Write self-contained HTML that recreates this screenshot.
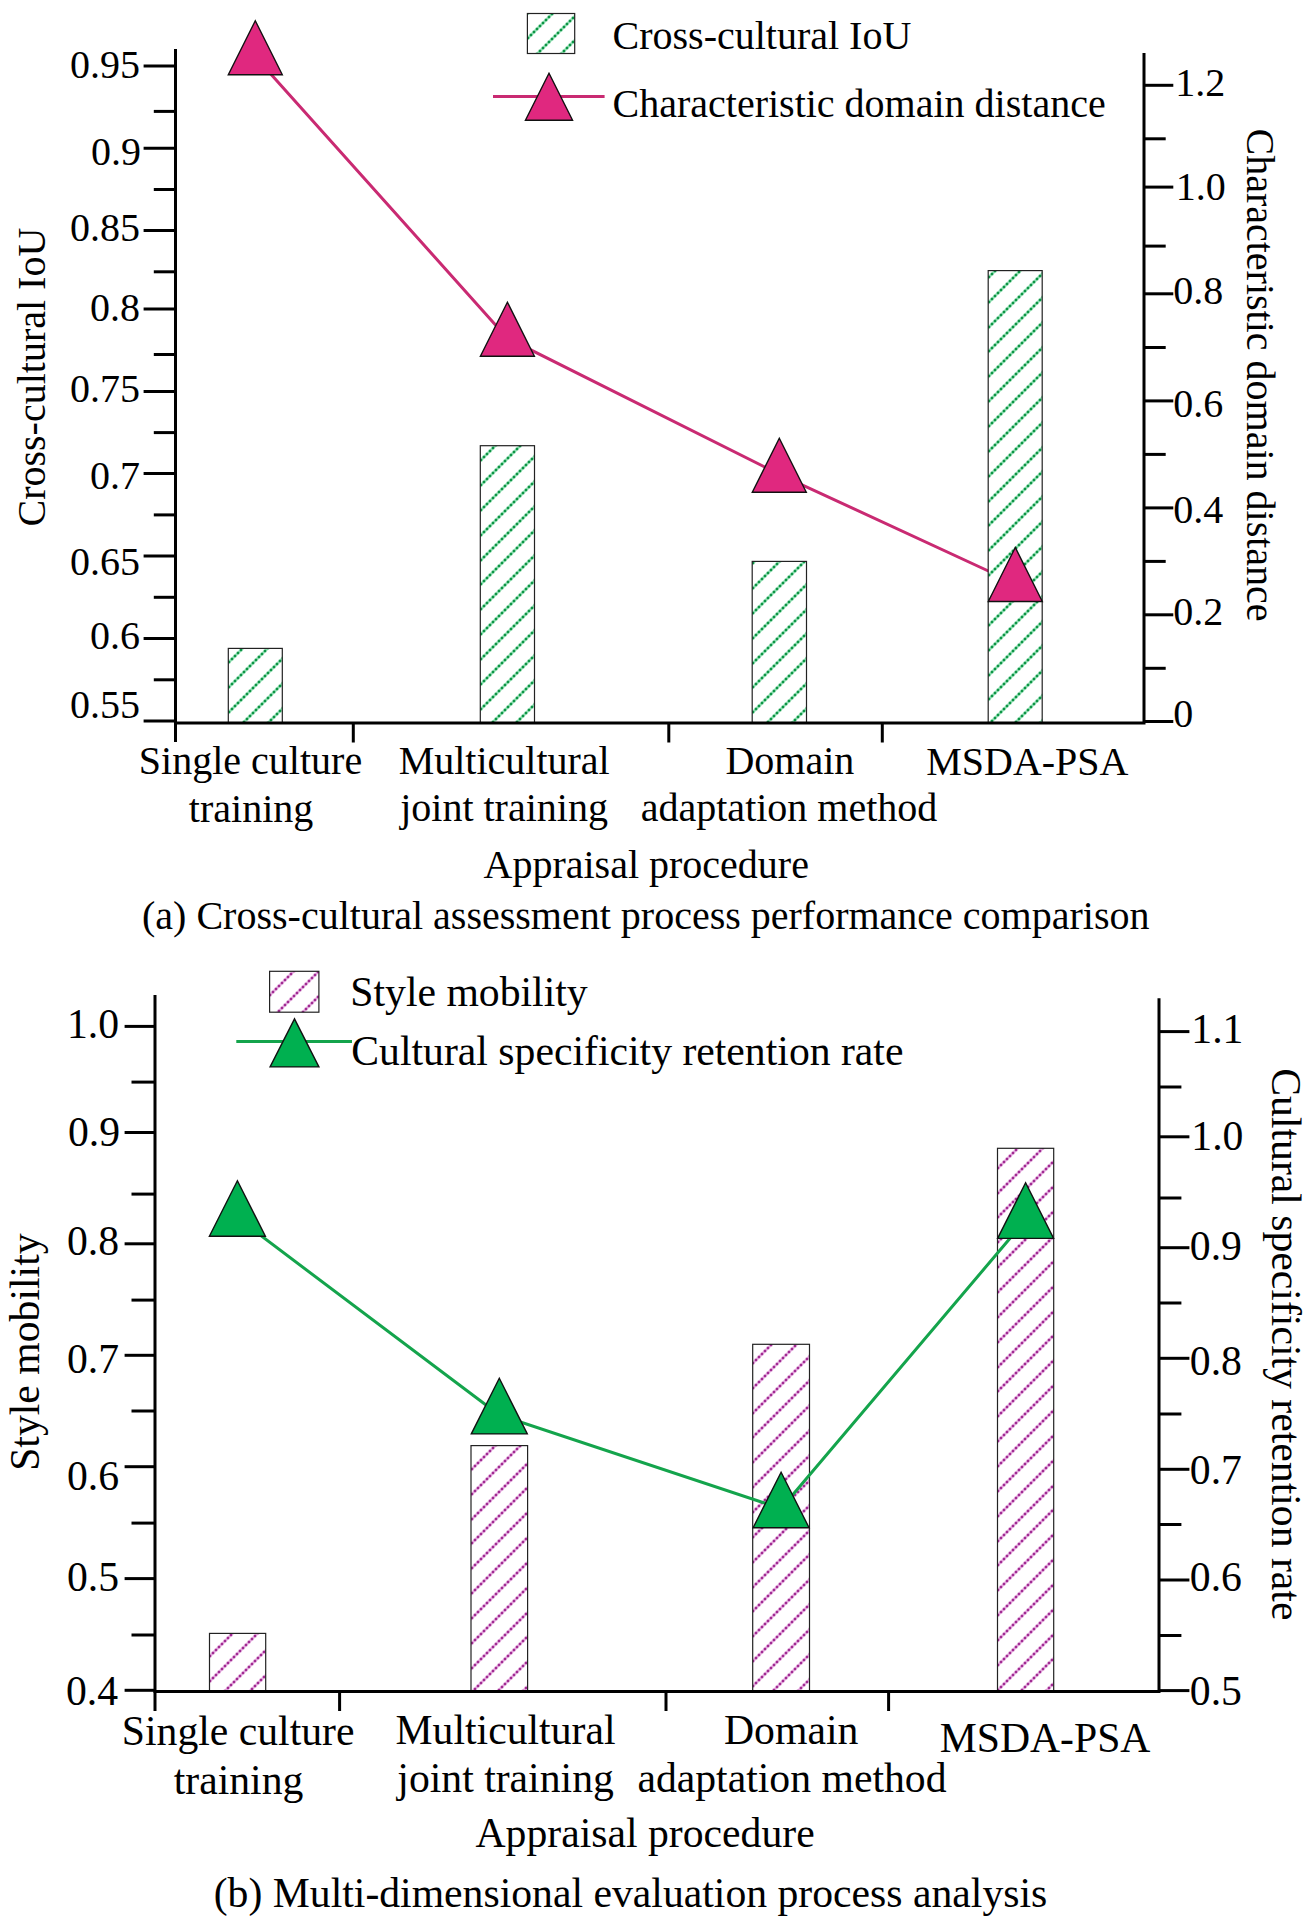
<!DOCTYPE html><html><head><meta charset="utf-8"><style>html,body{margin:0;padding:0;background:#fff}svg{display:block}</style></head><body>
<svg width="1308" height="1922" viewBox="0 0 1308 1922">
<rect width="1308" height="1922" fill="#fff"/>
<polyline points="255.3,56.7 507.4,338.2 779.3,474.3 1015.4,583.5" fill="none" stroke="#c92a72" stroke-width="3" stroke-linejoin="round"/>
<clipPath id="ca0"><rect x="228.3" y="648.4" width="54.00" height="74.60"/></clipPath>
<rect x="228.3" y="648.4" width="54.00" height="74.60" fill="#fff"/>
<g clip-path="url(#ca0)"><path fill="none" stroke="#9fe8bf" stroke-width="2.8" d="M225.3 616.7L285.3 556.7M225.3 641.7L285.3 581.7M225.3 665.7L285.3 605.7M225.3 690.7L285.3 630.7M225.3 715.7L285.3 655.7M225.3 740.7L285.3 680.7M225.3 765.7L285.3 705.7M225.3 790.7L285.3 730.7M225.3 815.7L285.3 755.7"/>
<path fill="#0f9446" d="M224.75 663.75h2.5v2.5h-2.5zM227.75 660.75h2.5v2.5h-2.5zM230.75 657.75h2.5v2.5h-2.5zM233.75 654.75h2.5v2.5h-2.5zM236.75 651.75h2.5v2.5h-2.5zM239.75 648.75h2.5v2.5h-2.5zM242.75 645.75h2.5v2.5h-2.5zM224.75 688.75h2.5v2.5h-2.5zM227.75 685.75h2.5v2.5h-2.5zM230.75 682.75h2.5v2.5h-2.5zM233.75 679.75h2.5v2.5h-2.5zM236.75 676.75h2.5v2.5h-2.5zM239.75 673.75h2.5v2.5h-2.5zM242.75 670.75h2.5v2.5h-2.5zM245.75 667.75h2.5v2.5h-2.5zM248.75 664.75h2.5v2.5h-2.5zM251.75 661.75h2.5v2.5h-2.5zM254.75 658.75h2.5v2.5h-2.5zM257.75 655.75h2.5v2.5h-2.5zM260.75 652.75h2.5v2.5h-2.5zM263.75 649.75h2.5v2.5h-2.5zM266.75 646.75h2.5v2.5h-2.5zM224.75 713.75h2.5v2.5h-2.5zM227.75 710.75h2.5v2.5h-2.5zM230.75 707.75h2.5v2.5h-2.5zM233.75 704.75h2.5v2.5h-2.5zM236.75 701.75h2.5v2.5h-2.5zM239.75 698.75h2.5v2.5h-2.5zM242.75 695.75h2.5v2.5h-2.5zM245.75 692.75h2.5v2.5h-2.5zM248.75 689.75h2.5v2.5h-2.5zM251.75 686.75h2.5v2.5h-2.5zM254.75 683.75h2.5v2.5h-2.5zM257.75 680.75h2.5v2.5h-2.5zM260.75 677.75h2.5v2.5h-2.5zM263.75 674.75h2.5v2.5h-2.5zM266.75 671.75h2.5v2.5h-2.5zM269.75 668.75h2.5v2.5h-2.5zM272.75 665.75h2.5v2.5h-2.5zM275.75 662.75h2.5v2.5h-2.5zM278.75 659.75h2.5v2.5h-2.5zM281.75 656.75h2.5v2.5h-2.5zM239.75 723.75h2.5v2.5h-2.5zM242.75 720.75h2.5v2.5h-2.5zM245.75 717.75h2.5v2.5h-2.5zM248.75 714.75h2.5v2.5h-2.5zM251.75 711.75h2.5v2.5h-2.5zM254.75 708.75h2.5v2.5h-2.5zM257.75 705.75h2.5v2.5h-2.5zM260.75 702.75h2.5v2.5h-2.5zM263.75 699.75h2.5v2.5h-2.5zM266.75 696.75h2.5v2.5h-2.5zM269.75 693.75h2.5v2.5h-2.5zM272.75 690.75h2.5v2.5h-2.5zM275.75 687.75h2.5v2.5h-2.5zM278.75 684.75h2.5v2.5h-2.5zM281.75 681.75h2.5v2.5h-2.5zM266.75 721.75h2.5v2.5h-2.5zM269.75 718.75h2.5v2.5h-2.5zM272.75 715.75h2.5v2.5h-2.5zM275.75 712.75h2.5v2.5h-2.5zM278.75 709.75h2.5v2.5h-2.5zM281.75 706.75h2.5v2.5h-2.5z"/></g>
<rect x="228.3" y="648.4" width="54.00" height="74.60" fill="none" stroke="#222" stroke-width="1.2"/>
<clipPath id="ca1"><rect x="480.3" y="445.7" width="54.20" height="277.30"/></clipPath>
<rect x="480.3" y="445.7" width="54.20" height="277.30" fill="#fff"/>
<g clip-path="url(#ca1)"><path fill="none" stroke="#9fe8bf" stroke-width="2.8" d="M477.3 414.7L537.5 354.5M477.3 438.7L537.5 378.5M477.3 463.7L537.5 403.5M477.3 488.7L537.5 428.5M477.3 513.7L537.5 453.5M477.3 538.7L537.5 478.5M477.3 563.7L537.5 503.5M477.3 587.7L537.5 527.5M477.3 612.7L537.5 552.5M477.3 637.7L537.5 577.5M477.3 662.7L537.5 602.5M477.3 687.7L537.5 627.5M477.3 712.7L537.5 652.5M477.3 737.7L537.5 677.5M477.3 761.7L537.5 701.5M477.3 786.7L537.5 726.5M477.3 811.7L537.5 751.5"/>
<path fill="#0f9446" d="M476.75 461.75h2.5v2.5h-2.5zM479.75 458.75h2.5v2.5h-2.5zM482.75 455.75h2.5v2.5h-2.5zM485.75 452.75h2.5v2.5h-2.5zM488.75 449.75h2.5v2.5h-2.5zM491.75 446.75h2.5v2.5h-2.5zM494.75 443.75h2.5v2.5h-2.5zM476.75 486.75h2.5v2.5h-2.5zM479.75 483.75h2.5v2.5h-2.5zM482.75 480.75h2.5v2.5h-2.5zM485.75 477.75h2.5v2.5h-2.5zM488.75 474.75h2.5v2.5h-2.5zM491.75 471.75h2.5v2.5h-2.5zM494.75 468.75h2.5v2.5h-2.5zM497.75 465.75h2.5v2.5h-2.5zM500.75 462.75h2.5v2.5h-2.5zM503.75 459.75h2.5v2.5h-2.5zM506.75 456.75h2.5v2.5h-2.5zM509.75 453.75h2.5v2.5h-2.5zM512.75 450.75h2.5v2.5h-2.5zM515.75 447.75h2.5v2.5h-2.5zM518.75 444.75h2.5v2.5h-2.5zM476.75 511.75h2.5v2.5h-2.5zM479.75 508.75h2.5v2.5h-2.5zM482.75 505.75h2.5v2.5h-2.5zM485.75 502.75h2.5v2.5h-2.5zM488.75 499.75h2.5v2.5h-2.5zM491.75 496.75h2.5v2.5h-2.5zM494.75 493.75h2.5v2.5h-2.5zM497.75 490.75h2.5v2.5h-2.5zM500.75 487.75h2.5v2.5h-2.5zM503.75 484.75h2.5v2.5h-2.5zM506.75 481.75h2.5v2.5h-2.5zM509.75 478.75h2.5v2.5h-2.5zM512.75 475.75h2.5v2.5h-2.5zM515.75 472.75h2.5v2.5h-2.5zM518.75 469.75h2.5v2.5h-2.5zM521.75 466.75h2.5v2.5h-2.5zM524.75 463.75h2.5v2.5h-2.5zM527.75 460.75h2.5v2.5h-2.5zM530.75 457.75h2.5v2.5h-2.5zM533.75 454.75h2.5v2.5h-2.5zM476.75 536.75h2.5v2.5h-2.5zM479.75 533.75h2.5v2.5h-2.5zM482.75 530.75h2.5v2.5h-2.5zM485.75 527.75h2.5v2.5h-2.5zM488.75 524.75h2.5v2.5h-2.5zM491.75 521.75h2.5v2.5h-2.5zM494.75 518.75h2.5v2.5h-2.5zM497.75 515.75h2.5v2.5h-2.5zM500.75 512.75h2.5v2.5h-2.5zM503.75 509.75h2.5v2.5h-2.5zM506.75 506.75h2.5v2.5h-2.5zM509.75 503.75h2.5v2.5h-2.5zM512.75 500.75h2.5v2.5h-2.5zM515.75 497.75h2.5v2.5h-2.5zM518.75 494.75h2.5v2.5h-2.5zM521.75 491.75h2.5v2.5h-2.5zM524.75 488.75h2.5v2.5h-2.5zM527.75 485.75h2.5v2.5h-2.5zM530.75 482.75h2.5v2.5h-2.5zM533.75 479.75h2.5v2.5h-2.5zM476.75 561.75h2.5v2.5h-2.5zM479.75 558.75h2.5v2.5h-2.5zM482.75 555.75h2.5v2.5h-2.5zM485.75 552.75h2.5v2.5h-2.5zM488.75 549.75h2.5v2.5h-2.5zM491.75 546.75h2.5v2.5h-2.5zM494.75 543.75h2.5v2.5h-2.5zM497.75 540.75h2.5v2.5h-2.5zM500.75 537.75h2.5v2.5h-2.5zM503.75 534.75h2.5v2.5h-2.5zM506.75 531.75h2.5v2.5h-2.5zM509.75 528.75h2.5v2.5h-2.5zM512.75 525.75h2.5v2.5h-2.5zM515.75 522.75h2.5v2.5h-2.5zM518.75 519.75h2.5v2.5h-2.5zM521.75 516.75h2.5v2.5h-2.5zM524.75 513.75h2.5v2.5h-2.5zM527.75 510.75h2.5v2.5h-2.5zM530.75 507.75h2.5v2.5h-2.5zM533.75 504.75h2.5v2.5h-2.5zM476.75 585.75h2.5v2.5h-2.5zM479.75 582.75h2.5v2.5h-2.5zM482.75 579.75h2.5v2.5h-2.5zM485.75 576.75h2.5v2.5h-2.5zM488.75 573.75h2.5v2.5h-2.5zM491.75 570.75h2.5v2.5h-2.5zM494.75 567.75h2.5v2.5h-2.5zM497.75 564.75h2.5v2.5h-2.5zM500.75 561.75h2.5v2.5h-2.5zM503.75 558.75h2.5v2.5h-2.5zM506.75 555.75h2.5v2.5h-2.5zM509.75 552.75h2.5v2.5h-2.5zM512.75 549.75h2.5v2.5h-2.5zM515.75 546.75h2.5v2.5h-2.5zM518.75 543.75h2.5v2.5h-2.5zM521.75 540.75h2.5v2.5h-2.5zM524.75 537.75h2.5v2.5h-2.5zM527.75 534.75h2.5v2.5h-2.5zM530.75 531.75h2.5v2.5h-2.5zM533.75 528.75h2.5v2.5h-2.5zM476.75 610.75h2.5v2.5h-2.5zM479.75 607.75h2.5v2.5h-2.5zM482.75 604.75h2.5v2.5h-2.5zM485.75 601.75h2.5v2.5h-2.5zM488.75 598.75h2.5v2.5h-2.5zM491.75 595.75h2.5v2.5h-2.5zM494.75 592.75h2.5v2.5h-2.5zM497.75 589.75h2.5v2.5h-2.5zM500.75 586.75h2.5v2.5h-2.5zM503.75 583.75h2.5v2.5h-2.5zM506.75 580.75h2.5v2.5h-2.5zM509.75 577.75h2.5v2.5h-2.5zM512.75 574.75h2.5v2.5h-2.5zM515.75 571.75h2.5v2.5h-2.5zM518.75 568.75h2.5v2.5h-2.5zM521.75 565.75h2.5v2.5h-2.5zM524.75 562.75h2.5v2.5h-2.5zM527.75 559.75h2.5v2.5h-2.5zM530.75 556.75h2.5v2.5h-2.5zM533.75 553.75h2.5v2.5h-2.5zM476.75 635.75h2.5v2.5h-2.5zM479.75 632.75h2.5v2.5h-2.5zM482.75 629.75h2.5v2.5h-2.5zM485.75 626.75h2.5v2.5h-2.5zM488.75 623.75h2.5v2.5h-2.5zM491.75 620.75h2.5v2.5h-2.5zM494.75 617.75h2.5v2.5h-2.5zM497.75 614.75h2.5v2.5h-2.5zM500.75 611.75h2.5v2.5h-2.5zM503.75 608.75h2.5v2.5h-2.5zM506.75 605.75h2.5v2.5h-2.5zM509.75 602.75h2.5v2.5h-2.5zM512.75 599.75h2.5v2.5h-2.5zM515.75 596.75h2.5v2.5h-2.5zM518.75 593.75h2.5v2.5h-2.5zM521.75 590.75h2.5v2.5h-2.5zM524.75 587.75h2.5v2.5h-2.5zM527.75 584.75h2.5v2.5h-2.5zM530.75 581.75h2.5v2.5h-2.5zM533.75 578.75h2.5v2.5h-2.5zM476.75 660.75h2.5v2.5h-2.5zM479.75 657.75h2.5v2.5h-2.5zM482.75 654.75h2.5v2.5h-2.5zM485.75 651.75h2.5v2.5h-2.5zM488.75 648.75h2.5v2.5h-2.5zM491.75 645.75h2.5v2.5h-2.5zM494.75 642.75h2.5v2.5h-2.5zM497.75 639.75h2.5v2.5h-2.5zM500.75 636.75h2.5v2.5h-2.5zM503.75 633.75h2.5v2.5h-2.5zM506.75 630.75h2.5v2.5h-2.5zM509.75 627.75h2.5v2.5h-2.5zM512.75 624.75h2.5v2.5h-2.5zM515.75 621.75h2.5v2.5h-2.5zM518.75 618.75h2.5v2.5h-2.5zM521.75 615.75h2.5v2.5h-2.5zM524.75 612.75h2.5v2.5h-2.5zM527.75 609.75h2.5v2.5h-2.5zM530.75 606.75h2.5v2.5h-2.5zM533.75 603.75h2.5v2.5h-2.5zM476.75 685.75h2.5v2.5h-2.5zM479.75 682.75h2.5v2.5h-2.5zM482.75 679.75h2.5v2.5h-2.5zM485.75 676.75h2.5v2.5h-2.5zM488.75 673.75h2.5v2.5h-2.5zM491.75 670.75h2.5v2.5h-2.5zM494.75 667.75h2.5v2.5h-2.5zM497.75 664.75h2.5v2.5h-2.5zM500.75 661.75h2.5v2.5h-2.5zM503.75 658.75h2.5v2.5h-2.5zM506.75 655.75h2.5v2.5h-2.5zM509.75 652.75h2.5v2.5h-2.5zM512.75 649.75h2.5v2.5h-2.5zM515.75 646.75h2.5v2.5h-2.5zM518.75 643.75h2.5v2.5h-2.5zM521.75 640.75h2.5v2.5h-2.5zM524.75 637.75h2.5v2.5h-2.5zM527.75 634.75h2.5v2.5h-2.5zM530.75 631.75h2.5v2.5h-2.5zM533.75 628.75h2.5v2.5h-2.5zM476.75 710.75h2.5v2.5h-2.5zM479.75 707.75h2.5v2.5h-2.5zM482.75 704.75h2.5v2.5h-2.5zM485.75 701.75h2.5v2.5h-2.5zM488.75 698.75h2.5v2.5h-2.5zM491.75 695.75h2.5v2.5h-2.5zM494.75 692.75h2.5v2.5h-2.5zM497.75 689.75h2.5v2.5h-2.5zM500.75 686.75h2.5v2.5h-2.5zM503.75 683.75h2.5v2.5h-2.5zM506.75 680.75h2.5v2.5h-2.5zM509.75 677.75h2.5v2.5h-2.5zM512.75 674.75h2.5v2.5h-2.5zM515.75 671.75h2.5v2.5h-2.5zM518.75 668.75h2.5v2.5h-2.5zM521.75 665.75h2.5v2.5h-2.5zM524.75 662.75h2.5v2.5h-2.5zM527.75 659.75h2.5v2.5h-2.5zM530.75 656.75h2.5v2.5h-2.5zM533.75 653.75h2.5v2.5h-2.5zM488.75 723.75h2.5v2.5h-2.5zM491.75 720.75h2.5v2.5h-2.5zM494.75 717.75h2.5v2.5h-2.5zM497.75 714.75h2.5v2.5h-2.5zM500.75 711.75h2.5v2.5h-2.5zM503.75 708.75h2.5v2.5h-2.5zM506.75 705.75h2.5v2.5h-2.5zM509.75 702.75h2.5v2.5h-2.5zM512.75 699.75h2.5v2.5h-2.5zM515.75 696.75h2.5v2.5h-2.5zM518.75 693.75h2.5v2.5h-2.5zM521.75 690.75h2.5v2.5h-2.5zM524.75 687.75h2.5v2.5h-2.5zM527.75 684.75h2.5v2.5h-2.5zM530.75 681.75h2.5v2.5h-2.5zM533.75 678.75h2.5v2.5h-2.5zM512.75 723.75h2.5v2.5h-2.5zM515.75 720.75h2.5v2.5h-2.5zM518.75 717.75h2.5v2.5h-2.5zM521.75 714.75h2.5v2.5h-2.5zM524.75 711.75h2.5v2.5h-2.5zM527.75 708.75h2.5v2.5h-2.5zM530.75 705.75h2.5v2.5h-2.5zM533.75 702.75h2.5v2.5h-2.5z"/></g>
<rect x="480.3" y="445.7" width="54.20" height="277.30" fill="none" stroke="#222" stroke-width="1.2"/>
<clipPath id="ca2"><rect x="752.2" y="561.4" width="54.30" height="161.60"/></clipPath>
<rect x="752.2" y="561.4" width="54.30" height="161.60" fill="#fff"/>
<g clip-path="url(#ca2)"><path fill="none" stroke="#9fe8bf" stroke-width="2.8" d="M749.2 516.8L809.5 456.5M749.2 541.8L809.5 481.5M749.2 566.8L809.5 506.5M749.2 591.8L809.5 531.5M749.2 616.8L809.5 556.5M749.2 641.8L809.5 581.5M749.2 666.8L809.5 606.5M749.2 690.8L809.5 630.5M749.2 715.8L809.5 655.5M749.2 740.8L809.5 680.5M749.2 765.8L809.5 705.5M749.2 790.8L809.5 730.5M749.2 815.8L809.5 755.5"/>
<path fill="#0f9446" d="M748.75 564.75h2.5v2.5h-2.5zM751.75 561.75h2.5v2.5h-2.5zM754.75 558.75h2.5v2.5h-2.5zM748.75 589.75h2.5v2.5h-2.5zM751.75 586.75h2.5v2.5h-2.5zM754.75 583.75h2.5v2.5h-2.5zM757.75 580.75h2.5v2.5h-2.5zM760.75 577.75h2.5v2.5h-2.5zM763.75 574.75h2.5v2.5h-2.5zM766.75 571.75h2.5v2.5h-2.5zM769.75 568.75h2.5v2.5h-2.5zM772.75 565.75h2.5v2.5h-2.5zM775.75 562.75h2.5v2.5h-2.5zM778.75 559.75h2.5v2.5h-2.5zM748.75 614.75h2.5v2.5h-2.5zM751.75 611.75h2.5v2.5h-2.5zM754.75 608.75h2.5v2.5h-2.5zM757.75 605.75h2.5v2.5h-2.5zM760.75 602.75h2.5v2.5h-2.5zM763.75 599.75h2.5v2.5h-2.5zM766.75 596.75h2.5v2.5h-2.5zM769.75 593.75h2.5v2.5h-2.5zM772.75 590.75h2.5v2.5h-2.5zM775.75 587.75h2.5v2.5h-2.5zM778.75 584.75h2.5v2.5h-2.5zM781.75 581.75h2.5v2.5h-2.5zM784.75 578.75h2.5v2.5h-2.5zM787.75 575.75h2.5v2.5h-2.5zM790.75 572.75h2.5v2.5h-2.5zM793.75 569.75h2.5v2.5h-2.5zM796.75 566.75h2.5v2.5h-2.5zM799.75 563.75h2.5v2.5h-2.5zM802.75 560.75h2.5v2.5h-2.5zM748.75 639.75h2.5v2.5h-2.5zM751.75 636.75h2.5v2.5h-2.5zM754.75 633.75h2.5v2.5h-2.5zM757.75 630.75h2.5v2.5h-2.5zM760.75 627.75h2.5v2.5h-2.5zM763.75 624.75h2.5v2.5h-2.5zM766.75 621.75h2.5v2.5h-2.5zM769.75 618.75h2.5v2.5h-2.5zM772.75 615.75h2.5v2.5h-2.5zM775.75 612.75h2.5v2.5h-2.5zM778.75 609.75h2.5v2.5h-2.5zM781.75 606.75h2.5v2.5h-2.5zM784.75 603.75h2.5v2.5h-2.5zM787.75 600.75h2.5v2.5h-2.5zM790.75 597.75h2.5v2.5h-2.5zM793.75 594.75h2.5v2.5h-2.5zM796.75 591.75h2.5v2.5h-2.5zM799.75 588.75h2.5v2.5h-2.5zM802.75 585.75h2.5v2.5h-2.5zM805.75 582.75h2.5v2.5h-2.5zM748.75 664.75h2.5v2.5h-2.5zM751.75 661.75h2.5v2.5h-2.5zM754.75 658.75h2.5v2.5h-2.5zM757.75 655.75h2.5v2.5h-2.5zM760.75 652.75h2.5v2.5h-2.5zM763.75 649.75h2.5v2.5h-2.5zM766.75 646.75h2.5v2.5h-2.5zM769.75 643.75h2.5v2.5h-2.5zM772.75 640.75h2.5v2.5h-2.5zM775.75 637.75h2.5v2.5h-2.5zM778.75 634.75h2.5v2.5h-2.5zM781.75 631.75h2.5v2.5h-2.5zM784.75 628.75h2.5v2.5h-2.5zM787.75 625.75h2.5v2.5h-2.5zM790.75 622.75h2.5v2.5h-2.5zM793.75 619.75h2.5v2.5h-2.5zM796.75 616.75h2.5v2.5h-2.5zM799.75 613.75h2.5v2.5h-2.5zM802.75 610.75h2.5v2.5h-2.5zM805.75 607.75h2.5v2.5h-2.5zM748.75 688.75h2.5v2.5h-2.5zM751.75 685.75h2.5v2.5h-2.5zM754.75 682.75h2.5v2.5h-2.5zM757.75 679.75h2.5v2.5h-2.5zM760.75 676.75h2.5v2.5h-2.5zM763.75 673.75h2.5v2.5h-2.5zM766.75 670.75h2.5v2.5h-2.5zM769.75 667.75h2.5v2.5h-2.5zM772.75 664.75h2.5v2.5h-2.5zM775.75 661.75h2.5v2.5h-2.5zM778.75 658.75h2.5v2.5h-2.5zM781.75 655.75h2.5v2.5h-2.5zM784.75 652.75h2.5v2.5h-2.5zM787.75 649.75h2.5v2.5h-2.5zM790.75 646.75h2.5v2.5h-2.5zM793.75 643.75h2.5v2.5h-2.5zM796.75 640.75h2.5v2.5h-2.5zM799.75 637.75h2.5v2.5h-2.5zM802.75 634.75h2.5v2.5h-2.5zM805.75 631.75h2.5v2.5h-2.5zM748.75 713.75h2.5v2.5h-2.5zM751.75 710.75h2.5v2.5h-2.5zM754.75 707.75h2.5v2.5h-2.5zM757.75 704.75h2.5v2.5h-2.5zM760.75 701.75h2.5v2.5h-2.5zM763.75 698.75h2.5v2.5h-2.5zM766.75 695.75h2.5v2.5h-2.5zM769.75 692.75h2.5v2.5h-2.5zM772.75 689.75h2.5v2.5h-2.5zM775.75 686.75h2.5v2.5h-2.5zM778.75 683.75h2.5v2.5h-2.5zM781.75 680.75h2.5v2.5h-2.5zM784.75 677.75h2.5v2.5h-2.5zM787.75 674.75h2.5v2.5h-2.5zM790.75 671.75h2.5v2.5h-2.5zM793.75 668.75h2.5v2.5h-2.5zM796.75 665.75h2.5v2.5h-2.5zM799.75 662.75h2.5v2.5h-2.5zM802.75 659.75h2.5v2.5h-2.5zM805.75 656.75h2.5v2.5h-2.5zM763.75 723.75h2.5v2.5h-2.5zM766.75 720.75h2.5v2.5h-2.5zM769.75 717.75h2.5v2.5h-2.5zM772.75 714.75h2.5v2.5h-2.5zM775.75 711.75h2.5v2.5h-2.5zM778.75 708.75h2.5v2.5h-2.5zM781.75 705.75h2.5v2.5h-2.5zM784.75 702.75h2.5v2.5h-2.5zM787.75 699.75h2.5v2.5h-2.5zM790.75 696.75h2.5v2.5h-2.5zM793.75 693.75h2.5v2.5h-2.5zM796.75 690.75h2.5v2.5h-2.5zM799.75 687.75h2.5v2.5h-2.5zM802.75 684.75h2.5v2.5h-2.5zM805.75 681.75h2.5v2.5h-2.5zM790.75 721.75h2.5v2.5h-2.5zM793.75 718.75h2.5v2.5h-2.5zM796.75 715.75h2.5v2.5h-2.5zM799.75 712.75h2.5v2.5h-2.5zM802.75 709.75h2.5v2.5h-2.5zM805.75 706.75h2.5v2.5h-2.5z"/></g>
<rect x="752.2" y="561.4" width="54.30" height="161.60" fill="none" stroke="#222" stroke-width="1.2"/>
<clipPath id="ca3"><rect x="988.2" y="270.6" width="54.00" height="452.40"/></clipPath>
<rect x="988.2" y="270.6" width="54.00" height="452.40" fill="#fff"/>
<g clip-path="url(#ca3)"><path fill="none" stroke="#9fe8bf" stroke-width="2.8" d="M985.2 230.8L1045.2 170.8M985.2 255.8L1045.2 195.8M985.2 280.8L1045.2 220.8M985.2 305.8L1045.2 245.8M985.2 330.8L1045.2 270.8M985.2 354.8L1045.2 294.8M985.2 379.8L1045.2 319.8M985.2 404.8L1045.2 344.8M985.2 429.8L1045.2 369.8M985.2 454.8L1045.2 394.8M985.2 479.8L1045.2 419.8M985.2 504.8L1045.2 444.8M985.2 528.8L1045.2 468.8M985.2 553.8L1045.2 493.8M985.2 578.8L1045.2 518.8M985.2 603.8L1045.2 543.8M985.2 628.8L1045.2 568.8M985.2 653.8L1045.2 593.8M985.2 678.8L1045.2 618.8M985.2 702.8L1045.2 642.8M985.2 727.8L1045.2 667.8M985.2 752.8L1045.2 692.8M985.2 777.8L1045.2 717.8M985.2 802.8L1045.2 742.8M985.2 827.8L1045.2 767.8"/>
<path fill="#0f9446" d="M984.75 278.75h2.5v2.5h-2.5zM987.75 275.75h2.5v2.5h-2.5zM990.75 272.75h2.5v2.5h-2.5zM993.75 269.75h2.5v2.5h-2.5zM984.75 303.75h2.5v2.5h-2.5zM987.75 300.75h2.5v2.5h-2.5zM990.75 297.75h2.5v2.5h-2.5zM993.75 294.75h2.5v2.5h-2.5zM996.75 291.75h2.5v2.5h-2.5zM999.75 288.75h2.5v2.5h-2.5zM1002.75 285.75h2.5v2.5h-2.5zM1005.75 282.75h2.5v2.5h-2.5zM1008.75 279.75h2.5v2.5h-2.5zM1011.75 276.75h2.5v2.5h-2.5zM1014.75 273.75h2.5v2.5h-2.5zM1017.75 270.75h2.5v2.5h-2.5zM1020.75 267.75h2.5v2.5h-2.5zM984.75 328.75h2.5v2.5h-2.5zM987.75 325.75h2.5v2.5h-2.5zM990.75 322.75h2.5v2.5h-2.5zM993.75 319.75h2.5v2.5h-2.5zM996.75 316.75h2.5v2.5h-2.5zM999.75 313.75h2.5v2.5h-2.5zM1002.75 310.75h2.5v2.5h-2.5zM1005.75 307.75h2.5v2.5h-2.5zM1008.75 304.75h2.5v2.5h-2.5zM1011.75 301.75h2.5v2.5h-2.5zM1014.75 298.75h2.5v2.5h-2.5zM1017.75 295.75h2.5v2.5h-2.5zM1020.75 292.75h2.5v2.5h-2.5zM1023.75 289.75h2.5v2.5h-2.5zM1026.75 286.75h2.5v2.5h-2.5zM1029.75 283.75h2.5v2.5h-2.5zM1032.75 280.75h2.5v2.5h-2.5zM1035.75 277.75h2.5v2.5h-2.5zM1038.75 274.75h2.5v2.5h-2.5zM1041.75 271.75h2.5v2.5h-2.5zM984.75 352.75h2.5v2.5h-2.5zM987.75 349.75h2.5v2.5h-2.5zM990.75 346.75h2.5v2.5h-2.5zM993.75 343.75h2.5v2.5h-2.5zM996.75 340.75h2.5v2.5h-2.5zM999.75 337.75h2.5v2.5h-2.5zM1002.75 334.75h2.5v2.5h-2.5zM1005.75 331.75h2.5v2.5h-2.5zM1008.75 328.75h2.5v2.5h-2.5zM1011.75 325.75h2.5v2.5h-2.5zM1014.75 322.75h2.5v2.5h-2.5zM1017.75 319.75h2.5v2.5h-2.5zM1020.75 316.75h2.5v2.5h-2.5zM1023.75 313.75h2.5v2.5h-2.5zM1026.75 310.75h2.5v2.5h-2.5zM1029.75 307.75h2.5v2.5h-2.5zM1032.75 304.75h2.5v2.5h-2.5zM1035.75 301.75h2.5v2.5h-2.5zM1038.75 298.75h2.5v2.5h-2.5zM1041.75 295.75h2.5v2.5h-2.5zM984.75 377.75h2.5v2.5h-2.5zM987.75 374.75h2.5v2.5h-2.5zM990.75 371.75h2.5v2.5h-2.5zM993.75 368.75h2.5v2.5h-2.5zM996.75 365.75h2.5v2.5h-2.5zM999.75 362.75h2.5v2.5h-2.5zM1002.75 359.75h2.5v2.5h-2.5zM1005.75 356.75h2.5v2.5h-2.5zM1008.75 353.75h2.5v2.5h-2.5zM1011.75 350.75h2.5v2.5h-2.5zM1014.75 347.75h2.5v2.5h-2.5zM1017.75 344.75h2.5v2.5h-2.5zM1020.75 341.75h2.5v2.5h-2.5zM1023.75 338.75h2.5v2.5h-2.5zM1026.75 335.75h2.5v2.5h-2.5zM1029.75 332.75h2.5v2.5h-2.5zM1032.75 329.75h2.5v2.5h-2.5zM1035.75 326.75h2.5v2.5h-2.5zM1038.75 323.75h2.5v2.5h-2.5zM1041.75 320.75h2.5v2.5h-2.5zM984.75 402.75h2.5v2.5h-2.5zM987.75 399.75h2.5v2.5h-2.5zM990.75 396.75h2.5v2.5h-2.5zM993.75 393.75h2.5v2.5h-2.5zM996.75 390.75h2.5v2.5h-2.5zM999.75 387.75h2.5v2.5h-2.5zM1002.75 384.75h2.5v2.5h-2.5zM1005.75 381.75h2.5v2.5h-2.5zM1008.75 378.75h2.5v2.5h-2.5zM1011.75 375.75h2.5v2.5h-2.5zM1014.75 372.75h2.5v2.5h-2.5zM1017.75 369.75h2.5v2.5h-2.5zM1020.75 366.75h2.5v2.5h-2.5zM1023.75 363.75h2.5v2.5h-2.5zM1026.75 360.75h2.5v2.5h-2.5zM1029.75 357.75h2.5v2.5h-2.5zM1032.75 354.75h2.5v2.5h-2.5zM1035.75 351.75h2.5v2.5h-2.5zM1038.75 348.75h2.5v2.5h-2.5zM1041.75 345.75h2.5v2.5h-2.5zM984.75 427.75h2.5v2.5h-2.5zM987.75 424.75h2.5v2.5h-2.5zM990.75 421.75h2.5v2.5h-2.5zM993.75 418.75h2.5v2.5h-2.5zM996.75 415.75h2.5v2.5h-2.5zM999.75 412.75h2.5v2.5h-2.5zM1002.75 409.75h2.5v2.5h-2.5zM1005.75 406.75h2.5v2.5h-2.5zM1008.75 403.75h2.5v2.5h-2.5zM1011.75 400.75h2.5v2.5h-2.5zM1014.75 397.75h2.5v2.5h-2.5zM1017.75 394.75h2.5v2.5h-2.5zM1020.75 391.75h2.5v2.5h-2.5zM1023.75 388.75h2.5v2.5h-2.5zM1026.75 385.75h2.5v2.5h-2.5zM1029.75 382.75h2.5v2.5h-2.5zM1032.75 379.75h2.5v2.5h-2.5zM1035.75 376.75h2.5v2.5h-2.5zM1038.75 373.75h2.5v2.5h-2.5zM1041.75 370.75h2.5v2.5h-2.5zM984.75 452.75h2.5v2.5h-2.5zM987.75 449.75h2.5v2.5h-2.5zM990.75 446.75h2.5v2.5h-2.5zM993.75 443.75h2.5v2.5h-2.5zM996.75 440.75h2.5v2.5h-2.5zM999.75 437.75h2.5v2.5h-2.5zM1002.75 434.75h2.5v2.5h-2.5zM1005.75 431.75h2.5v2.5h-2.5zM1008.75 428.75h2.5v2.5h-2.5zM1011.75 425.75h2.5v2.5h-2.5zM1014.75 422.75h2.5v2.5h-2.5zM1017.75 419.75h2.5v2.5h-2.5zM1020.75 416.75h2.5v2.5h-2.5zM1023.75 413.75h2.5v2.5h-2.5zM1026.75 410.75h2.5v2.5h-2.5zM1029.75 407.75h2.5v2.5h-2.5zM1032.75 404.75h2.5v2.5h-2.5zM1035.75 401.75h2.5v2.5h-2.5zM1038.75 398.75h2.5v2.5h-2.5zM1041.75 395.75h2.5v2.5h-2.5zM984.75 477.75h2.5v2.5h-2.5zM987.75 474.75h2.5v2.5h-2.5zM990.75 471.75h2.5v2.5h-2.5zM993.75 468.75h2.5v2.5h-2.5zM996.75 465.75h2.5v2.5h-2.5zM999.75 462.75h2.5v2.5h-2.5zM1002.75 459.75h2.5v2.5h-2.5zM1005.75 456.75h2.5v2.5h-2.5zM1008.75 453.75h2.5v2.5h-2.5zM1011.75 450.75h2.5v2.5h-2.5zM1014.75 447.75h2.5v2.5h-2.5zM1017.75 444.75h2.5v2.5h-2.5zM1020.75 441.75h2.5v2.5h-2.5zM1023.75 438.75h2.5v2.5h-2.5zM1026.75 435.75h2.5v2.5h-2.5zM1029.75 432.75h2.5v2.5h-2.5zM1032.75 429.75h2.5v2.5h-2.5zM1035.75 426.75h2.5v2.5h-2.5zM1038.75 423.75h2.5v2.5h-2.5zM1041.75 420.75h2.5v2.5h-2.5zM984.75 502.75h2.5v2.5h-2.5zM987.75 499.75h2.5v2.5h-2.5zM990.75 496.75h2.5v2.5h-2.5zM993.75 493.75h2.5v2.5h-2.5zM996.75 490.75h2.5v2.5h-2.5zM999.75 487.75h2.5v2.5h-2.5zM1002.75 484.75h2.5v2.5h-2.5zM1005.75 481.75h2.5v2.5h-2.5zM1008.75 478.75h2.5v2.5h-2.5zM1011.75 475.75h2.5v2.5h-2.5zM1014.75 472.75h2.5v2.5h-2.5zM1017.75 469.75h2.5v2.5h-2.5zM1020.75 466.75h2.5v2.5h-2.5zM1023.75 463.75h2.5v2.5h-2.5zM1026.75 460.75h2.5v2.5h-2.5zM1029.75 457.75h2.5v2.5h-2.5zM1032.75 454.75h2.5v2.5h-2.5zM1035.75 451.75h2.5v2.5h-2.5zM1038.75 448.75h2.5v2.5h-2.5zM1041.75 445.75h2.5v2.5h-2.5zM984.75 526.75h2.5v2.5h-2.5zM987.75 523.75h2.5v2.5h-2.5zM990.75 520.75h2.5v2.5h-2.5zM993.75 517.75h2.5v2.5h-2.5zM996.75 514.75h2.5v2.5h-2.5zM999.75 511.75h2.5v2.5h-2.5zM1002.75 508.75h2.5v2.5h-2.5zM1005.75 505.75h2.5v2.5h-2.5zM1008.75 502.75h2.5v2.5h-2.5zM1011.75 499.75h2.5v2.5h-2.5zM1014.75 496.75h2.5v2.5h-2.5zM1017.75 493.75h2.5v2.5h-2.5zM1020.75 490.75h2.5v2.5h-2.5zM1023.75 487.75h2.5v2.5h-2.5zM1026.75 484.75h2.5v2.5h-2.5zM1029.75 481.75h2.5v2.5h-2.5zM1032.75 478.75h2.5v2.5h-2.5zM1035.75 475.75h2.5v2.5h-2.5zM1038.75 472.75h2.5v2.5h-2.5zM1041.75 469.75h2.5v2.5h-2.5zM984.75 551.75h2.5v2.5h-2.5zM987.75 548.75h2.5v2.5h-2.5zM990.75 545.75h2.5v2.5h-2.5zM993.75 542.75h2.5v2.5h-2.5zM996.75 539.75h2.5v2.5h-2.5zM999.75 536.75h2.5v2.5h-2.5zM1002.75 533.75h2.5v2.5h-2.5zM1005.75 530.75h2.5v2.5h-2.5zM1008.75 527.75h2.5v2.5h-2.5zM1011.75 524.75h2.5v2.5h-2.5zM1014.75 521.75h2.5v2.5h-2.5zM1017.75 518.75h2.5v2.5h-2.5zM1020.75 515.75h2.5v2.5h-2.5zM1023.75 512.75h2.5v2.5h-2.5zM1026.75 509.75h2.5v2.5h-2.5zM1029.75 506.75h2.5v2.5h-2.5zM1032.75 503.75h2.5v2.5h-2.5zM1035.75 500.75h2.5v2.5h-2.5zM1038.75 497.75h2.5v2.5h-2.5zM1041.75 494.75h2.5v2.5h-2.5zM984.75 576.75h2.5v2.5h-2.5zM987.75 573.75h2.5v2.5h-2.5zM990.75 570.75h2.5v2.5h-2.5zM993.75 567.75h2.5v2.5h-2.5zM996.75 564.75h2.5v2.5h-2.5zM999.75 561.75h2.5v2.5h-2.5zM1002.75 558.75h2.5v2.5h-2.5zM1005.75 555.75h2.5v2.5h-2.5zM1008.75 552.75h2.5v2.5h-2.5zM1011.75 549.75h2.5v2.5h-2.5zM1014.75 546.75h2.5v2.5h-2.5zM1017.75 543.75h2.5v2.5h-2.5zM1020.75 540.75h2.5v2.5h-2.5zM1023.75 537.75h2.5v2.5h-2.5zM1026.75 534.75h2.5v2.5h-2.5zM1029.75 531.75h2.5v2.5h-2.5zM1032.75 528.75h2.5v2.5h-2.5zM1035.75 525.75h2.5v2.5h-2.5zM1038.75 522.75h2.5v2.5h-2.5zM1041.75 519.75h2.5v2.5h-2.5zM984.75 601.75h2.5v2.5h-2.5zM987.75 598.75h2.5v2.5h-2.5zM990.75 595.75h2.5v2.5h-2.5zM993.75 592.75h2.5v2.5h-2.5zM996.75 589.75h2.5v2.5h-2.5zM999.75 586.75h2.5v2.5h-2.5zM1002.75 583.75h2.5v2.5h-2.5zM1005.75 580.75h2.5v2.5h-2.5zM1008.75 577.75h2.5v2.5h-2.5zM1011.75 574.75h2.5v2.5h-2.5zM1014.75 571.75h2.5v2.5h-2.5zM1017.75 568.75h2.5v2.5h-2.5zM1020.75 565.75h2.5v2.5h-2.5zM1023.75 562.75h2.5v2.5h-2.5zM1026.75 559.75h2.5v2.5h-2.5zM1029.75 556.75h2.5v2.5h-2.5zM1032.75 553.75h2.5v2.5h-2.5zM1035.75 550.75h2.5v2.5h-2.5zM1038.75 547.75h2.5v2.5h-2.5zM1041.75 544.75h2.5v2.5h-2.5zM984.75 626.75h2.5v2.5h-2.5zM987.75 623.75h2.5v2.5h-2.5zM990.75 620.75h2.5v2.5h-2.5zM993.75 617.75h2.5v2.5h-2.5zM996.75 614.75h2.5v2.5h-2.5zM999.75 611.75h2.5v2.5h-2.5zM1002.75 608.75h2.5v2.5h-2.5zM1005.75 605.75h2.5v2.5h-2.5zM1008.75 602.75h2.5v2.5h-2.5zM1011.75 599.75h2.5v2.5h-2.5zM1014.75 596.75h2.5v2.5h-2.5zM1017.75 593.75h2.5v2.5h-2.5zM1020.75 590.75h2.5v2.5h-2.5zM1023.75 587.75h2.5v2.5h-2.5zM1026.75 584.75h2.5v2.5h-2.5zM1029.75 581.75h2.5v2.5h-2.5zM1032.75 578.75h2.5v2.5h-2.5zM1035.75 575.75h2.5v2.5h-2.5zM1038.75 572.75h2.5v2.5h-2.5zM1041.75 569.75h2.5v2.5h-2.5zM984.75 651.75h2.5v2.5h-2.5zM987.75 648.75h2.5v2.5h-2.5zM990.75 645.75h2.5v2.5h-2.5zM993.75 642.75h2.5v2.5h-2.5zM996.75 639.75h2.5v2.5h-2.5zM999.75 636.75h2.5v2.5h-2.5zM1002.75 633.75h2.5v2.5h-2.5zM1005.75 630.75h2.5v2.5h-2.5zM1008.75 627.75h2.5v2.5h-2.5zM1011.75 624.75h2.5v2.5h-2.5zM1014.75 621.75h2.5v2.5h-2.5zM1017.75 618.75h2.5v2.5h-2.5zM1020.75 615.75h2.5v2.5h-2.5zM1023.75 612.75h2.5v2.5h-2.5zM1026.75 609.75h2.5v2.5h-2.5zM1029.75 606.75h2.5v2.5h-2.5zM1032.75 603.75h2.5v2.5h-2.5zM1035.75 600.75h2.5v2.5h-2.5zM1038.75 597.75h2.5v2.5h-2.5zM1041.75 594.75h2.5v2.5h-2.5zM984.75 676.75h2.5v2.5h-2.5zM987.75 673.75h2.5v2.5h-2.5zM990.75 670.75h2.5v2.5h-2.5zM993.75 667.75h2.5v2.5h-2.5zM996.75 664.75h2.5v2.5h-2.5zM999.75 661.75h2.5v2.5h-2.5zM1002.75 658.75h2.5v2.5h-2.5zM1005.75 655.75h2.5v2.5h-2.5zM1008.75 652.75h2.5v2.5h-2.5zM1011.75 649.75h2.5v2.5h-2.5zM1014.75 646.75h2.5v2.5h-2.5zM1017.75 643.75h2.5v2.5h-2.5zM1020.75 640.75h2.5v2.5h-2.5zM1023.75 637.75h2.5v2.5h-2.5zM1026.75 634.75h2.5v2.5h-2.5zM1029.75 631.75h2.5v2.5h-2.5zM1032.75 628.75h2.5v2.5h-2.5zM1035.75 625.75h2.5v2.5h-2.5zM1038.75 622.75h2.5v2.5h-2.5zM1041.75 619.75h2.5v2.5h-2.5zM984.75 700.75h2.5v2.5h-2.5zM987.75 697.75h2.5v2.5h-2.5zM990.75 694.75h2.5v2.5h-2.5zM993.75 691.75h2.5v2.5h-2.5zM996.75 688.75h2.5v2.5h-2.5zM999.75 685.75h2.5v2.5h-2.5zM1002.75 682.75h2.5v2.5h-2.5zM1005.75 679.75h2.5v2.5h-2.5zM1008.75 676.75h2.5v2.5h-2.5zM1011.75 673.75h2.5v2.5h-2.5zM1014.75 670.75h2.5v2.5h-2.5zM1017.75 667.75h2.5v2.5h-2.5zM1020.75 664.75h2.5v2.5h-2.5zM1023.75 661.75h2.5v2.5h-2.5zM1026.75 658.75h2.5v2.5h-2.5zM1029.75 655.75h2.5v2.5h-2.5zM1032.75 652.75h2.5v2.5h-2.5zM1035.75 649.75h2.5v2.5h-2.5zM1038.75 646.75h2.5v2.5h-2.5zM1041.75 643.75h2.5v2.5h-2.5zM987.75 722.75h2.5v2.5h-2.5zM990.75 719.75h2.5v2.5h-2.5zM993.75 716.75h2.5v2.5h-2.5zM996.75 713.75h2.5v2.5h-2.5zM999.75 710.75h2.5v2.5h-2.5zM1002.75 707.75h2.5v2.5h-2.5zM1005.75 704.75h2.5v2.5h-2.5zM1008.75 701.75h2.5v2.5h-2.5zM1011.75 698.75h2.5v2.5h-2.5zM1014.75 695.75h2.5v2.5h-2.5zM1017.75 692.75h2.5v2.5h-2.5zM1020.75 689.75h2.5v2.5h-2.5zM1023.75 686.75h2.5v2.5h-2.5zM1026.75 683.75h2.5v2.5h-2.5zM1029.75 680.75h2.5v2.5h-2.5zM1032.75 677.75h2.5v2.5h-2.5zM1035.75 674.75h2.5v2.5h-2.5zM1038.75 671.75h2.5v2.5h-2.5zM1041.75 668.75h2.5v2.5h-2.5zM1011.75 723.75h2.5v2.5h-2.5zM1014.75 720.75h2.5v2.5h-2.5zM1017.75 717.75h2.5v2.5h-2.5zM1020.75 714.75h2.5v2.5h-2.5zM1023.75 711.75h2.5v2.5h-2.5zM1026.75 708.75h2.5v2.5h-2.5zM1029.75 705.75h2.5v2.5h-2.5zM1032.75 702.75h2.5v2.5h-2.5zM1035.75 699.75h2.5v2.5h-2.5zM1038.75 696.75h2.5v2.5h-2.5zM1041.75 693.75h2.5v2.5h-2.5zM1038.75 721.75h2.5v2.5h-2.5zM1041.75 718.75h2.5v2.5h-2.5z"/></g>
<rect x="988.2" y="270.6" width="54.00" height="452.40" fill="none" stroke="#222" stroke-width="1.2"/>
<polygon points="255.3,20.7 228.3,74.7 282.3,74.7" fill="#e0287f" stroke="#111" stroke-width="1.4" stroke-linejoin="miter"/>
<polygon points="507.4,302.2 480.4,356.2 534.4,356.2" fill="#e0287f" stroke="#111" stroke-width="1.4" stroke-linejoin="miter"/>
<polygon points="779.3,438.3 752.3,492.3 806.3,492.3" fill="#e0287f" stroke="#111" stroke-width="1.4" stroke-linejoin="miter"/>
<polygon points="1015.3,547.5 988.3,601.5 1042.3,601.5" fill="#e0287f" stroke="#111" stroke-width="1.4" stroke-linejoin="miter"/>
<line x1="175.5" y1="49.1" x2="175.5" y2="742.0" stroke="#000" stroke-width="3" stroke-linecap="butt"/>
<line x1="174.0" y1="723.0" x2="1145.5" y2="723.0" stroke="#000" stroke-width="3" stroke-linecap="butt"/>
<line x1="1144.0" y1="53.1" x2="1144.0" y2="723.0" stroke="#000" stroke-width="3" stroke-linecap="butt"/>
<line x1="143.6" y1="65.9" x2="175.5" y2="65.9" stroke="#000" stroke-width="3" stroke-linecap="butt"/>
<line x1="143.6" y1="148.3" x2="175.5" y2="148.3" stroke="#000" stroke-width="3" stroke-linecap="butt"/>
<line x1="143.6" y1="230.6" x2="175.5" y2="230.6" stroke="#000" stroke-width="3" stroke-linecap="butt"/>
<line x1="143.6" y1="309.1" x2="175.5" y2="309.1" stroke="#000" stroke-width="3" stroke-linecap="butt"/>
<line x1="143.6" y1="391.4" x2="175.5" y2="391.4" stroke="#000" stroke-width="3" stroke-linecap="butt"/>
<line x1="143.6" y1="473.6" x2="175.5" y2="473.6" stroke="#000" stroke-width="3" stroke-linecap="butt"/>
<line x1="143.6" y1="556.0" x2="175.5" y2="556.0" stroke="#000" stroke-width="3" stroke-linecap="butt"/>
<line x1="143.6" y1="638.4" x2="175.5" y2="638.4" stroke="#000" stroke-width="3" stroke-linecap="butt"/>
<line x1="153.8" y1="111.4" x2="175.5" y2="111.4" stroke="#000" stroke-width="3" stroke-linecap="butt"/>
<line x1="153.8" y1="189.5" x2="175.5" y2="189.5" stroke="#000" stroke-width="3" stroke-linecap="butt"/>
<line x1="153.8" y1="271.8" x2="175.5" y2="271.8" stroke="#000" stroke-width="3" stroke-linecap="butt"/>
<line x1="153.8" y1="354.5" x2="175.5" y2="354.5" stroke="#000" stroke-width="3" stroke-linecap="butt"/>
<line x1="153.8" y1="432.6" x2="175.5" y2="432.6" stroke="#000" stroke-width="3" stroke-linecap="butt"/>
<line x1="153.8" y1="514.9" x2="175.5" y2="514.9" stroke="#000" stroke-width="3" stroke-linecap="butt"/>
<line x1="153.8" y1="597.3" x2="175.5" y2="597.3" stroke="#000" stroke-width="3" stroke-linecap="butt"/>
<line x1="153.8" y1="679.8" x2="175.5" y2="679.8" stroke="#000" stroke-width="3" stroke-linecap="butt"/>
<line x1="143.6" y1="721.0" x2="175.5" y2="721.0" stroke="#000" stroke-width="3" stroke-linecap="butt"/>
<line x1="1144.0" y1="85.3" x2="1173.3" y2="85.3" stroke="#000" stroke-width="3" stroke-linecap="butt"/>
<line x1="1144.0" y1="187.1" x2="1173.3" y2="187.1" stroke="#000" stroke-width="3" stroke-linecap="butt"/>
<line x1="1144.0" y1="293.8" x2="1173.3" y2="293.8" stroke="#000" stroke-width="3" stroke-linecap="butt"/>
<line x1="1144.0" y1="400.9" x2="1173.3" y2="400.9" stroke="#000" stroke-width="3" stroke-linecap="butt"/>
<line x1="1144.0" y1="507.9" x2="1173.3" y2="507.9" stroke="#000" stroke-width="3" stroke-linecap="butt"/>
<line x1="1144.0" y1="614.8" x2="1173.3" y2="614.8" stroke="#000" stroke-width="3" stroke-linecap="butt"/>
<line x1="1144.0" y1="138.8" x2="1165.7" y2="138.8" stroke="#000" stroke-width="3" stroke-linecap="butt"/>
<line x1="1144.0" y1="246.1" x2="1165.7" y2="246.1" stroke="#000" stroke-width="3" stroke-linecap="butt"/>
<line x1="1144.0" y1="347.5" x2="1165.7" y2="347.5" stroke="#000" stroke-width="3" stroke-linecap="butt"/>
<line x1="1144.0" y1="454.4" x2="1165.7" y2="454.4" stroke="#000" stroke-width="3" stroke-linecap="butt"/>
<line x1="1144.0" y1="561.4" x2="1165.7" y2="561.4" stroke="#000" stroke-width="3" stroke-linecap="butt"/>
<line x1="1144.0" y1="668.3" x2="1165.7" y2="668.3" stroke="#000" stroke-width="3" stroke-linecap="butt"/>
<line x1="1144.0" y1="721.5" x2="1173.3" y2="721.5" stroke="#000" stroke-width="3" stroke-linecap="butt"/>
<line x1="353.3" y1="723.0" x2="353.3" y2="742.5" stroke="#000" stroke-width="3" stroke-linecap="butt"/>
<line x1="668.8" y1="723.0" x2="668.8" y2="742.5" stroke="#000" stroke-width="3" stroke-linecap="butt"/>
<line x1="882.3" y1="723.0" x2="882.3" y2="742.5" stroke="#000" stroke-width="3" stroke-linecap="butt"/>
<clipPath id="cla"><rect x="527.4" y="13.5" width="47.30" height="40.00"/></clipPath>
<rect x="527.4" y="13.5" width="47.30" height="40.00" fill="#fff"/>
<g clip-path="url(#cla)"><path fill="none" stroke="#9fe8bf" stroke-width="2.8" d="M524.4 -8.4L577.7 -61.7M524.4 16.6L577.7 -36.7M524.4 41.6L577.7 -11.7M524.4 66.6L577.7 13.3M524.4 90.6L577.7 37.3M524.4 115.6L577.7 62.3M524.4 140.6L577.7 87.3"/>
<path fill="#0f9446" d="M523.75 14.75h2.5v2.5h-2.5zM526.75 11.75h2.5v2.5h-2.5zM523.75 39.75h2.5v2.5h-2.5zM526.75 36.75h2.5v2.5h-2.5zM529.75 33.75h2.5v2.5h-2.5zM532.75 30.75h2.5v2.5h-2.5zM535.75 27.75h2.5v2.5h-2.5zM538.75 24.75h2.5v2.5h-2.5zM541.75 21.75h2.5v2.5h-2.5zM544.75 18.75h2.5v2.5h-2.5zM547.75 15.75h2.5v2.5h-2.5zM550.75 12.75h2.5v2.5h-2.5zM535.75 52.75h2.5v2.5h-2.5zM538.75 49.75h2.5v2.5h-2.5zM541.75 46.75h2.5v2.5h-2.5zM544.75 43.75h2.5v2.5h-2.5zM547.75 40.75h2.5v2.5h-2.5zM550.75 37.75h2.5v2.5h-2.5zM553.75 34.75h2.5v2.5h-2.5zM556.75 31.75h2.5v2.5h-2.5zM559.75 28.75h2.5v2.5h-2.5zM562.75 25.75h2.5v2.5h-2.5zM565.75 22.75h2.5v2.5h-2.5zM568.75 19.75h2.5v2.5h-2.5zM571.75 16.75h2.5v2.5h-2.5zM574.75 13.75h2.5v2.5h-2.5zM559.75 52.75h2.5v2.5h-2.5zM562.75 49.75h2.5v2.5h-2.5zM565.75 46.75h2.5v2.5h-2.5zM568.75 43.75h2.5v2.5h-2.5zM571.75 40.75h2.5v2.5h-2.5zM574.75 37.75h2.5v2.5h-2.5z"/></g>
<rect x="527.4" y="13.5" width="47.30" height="40.00" fill="none" stroke="#222" stroke-width="1.2"/>
<line x1="493.0" y1="96.6" x2="604.6" y2="96.6" stroke="#c92a72" stroke-width="3" stroke-linecap="butt"/>
<polygon points="549.0,73.2 525.45,120.30000000000001 572.55,120.30000000000001" fill="#e0287f" stroke="#111" stroke-width="1.4" stroke-linejoin="miter"/>
<clipPath id="cb0"><rect x="209.5" y="1633.4" width="56.20" height="58.10"/></clipPath>
<rect x="209.5" y="1633.4" width="56.20" height="58.10" fill="#fff"/>
<g clip-path="url(#cb0)"><path fill="none" stroke="#eebbe9" stroke-width="2.8" d="M206.5 1609.5L268.7 1547.3M206.5 1634.5L268.7 1572.3M206.5 1659.5L268.7 1597.3M206.5 1684.5L268.7 1622.3M206.5 1709.5L268.7 1647.3M206.5 1734.5L268.7 1672.3M206.5 1758.5L268.7 1696.3M206.5 1783.5L268.7 1721.3"/>
<path fill="#a02c92" d="M205.75 1632.75h2.5v2.5h-2.5zM205.75 1657.75h2.5v2.5h-2.5zM208.75 1654.75h2.5v2.5h-2.5zM211.75 1651.75h2.5v2.5h-2.5zM214.75 1648.75h2.5v2.5h-2.5zM217.75 1645.75h2.5v2.5h-2.5zM220.75 1642.75h2.5v2.5h-2.5zM223.75 1639.75h2.5v2.5h-2.5zM226.75 1636.75h2.5v2.5h-2.5zM229.75 1633.75h2.5v2.5h-2.5zM232.75 1630.75h2.5v2.5h-2.5zM205.75 1682.75h2.5v2.5h-2.5zM208.75 1679.75h2.5v2.5h-2.5zM211.75 1676.75h2.5v2.5h-2.5zM214.75 1673.75h2.5v2.5h-2.5zM217.75 1670.75h2.5v2.5h-2.5zM220.75 1667.75h2.5v2.5h-2.5zM223.75 1664.75h2.5v2.5h-2.5zM226.75 1661.75h2.5v2.5h-2.5zM229.75 1658.75h2.5v2.5h-2.5zM232.75 1655.75h2.5v2.5h-2.5zM235.75 1652.75h2.5v2.5h-2.5zM238.75 1649.75h2.5v2.5h-2.5zM241.75 1646.75h2.5v2.5h-2.5zM244.75 1643.75h2.5v2.5h-2.5zM247.75 1640.75h2.5v2.5h-2.5zM250.75 1637.75h2.5v2.5h-2.5zM253.75 1634.75h2.5v2.5h-2.5zM256.75 1631.75h2.5v2.5h-2.5zM223.75 1689.75h2.5v2.5h-2.5zM226.75 1686.75h2.5v2.5h-2.5zM229.75 1683.75h2.5v2.5h-2.5zM232.75 1680.75h2.5v2.5h-2.5zM235.75 1677.75h2.5v2.5h-2.5zM238.75 1674.75h2.5v2.5h-2.5zM241.75 1671.75h2.5v2.5h-2.5zM244.75 1668.75h2.5v2.5h-2.5zM247.75 1665.75h2.5v2.5h-2.5zM250.75 1662.75h2.5v2.5h-2.5zM253.75 1659.75h2.5v2.5h-2.5zM256.75 1656.75h2.5v2.5h-2.5zM259.75 1653.75h2.5v2.5h-2.5zM262.75 1650.75h2.5v2.5h-2.5zM265.75 1647.75h2.5v2.5h-2.5zM247.75 1690.75h2.5v2.5h-2.5zM250.75 1687.75h2.5v2.5h-2.5zM253.75 1684.75h2.5v2.5h-2.5zM256.75 1681.75h2.5v2.5h-2.5zM259.75 1678.75h2.5v2.5h-2.5zM262.75 1675.75h2.5v2.5h-2.5zM265.75 1672.75h2.5v2.5h-2.5z"/></g>
<rect x="209.5" y="1633.4" width="56.20" height="58.10" fill="none" stroke="#222" stroke-width="1.2"/>
<clipPath id="cb1"><rect x="471.0" y="1445.6" width="56.60" height="245.90"/></clipPath>
<rect x="471.0" y="1445.6" width="56.60" height="245.90" fill="#fff"/>
<g clip-path="url(#cb1)"><path fill="none" stroke="#eebbe9" stroke-width="2.8" d="M468 1423L530.6 1360.4M468 1448L530.6 1385.4M468 1473L530.6 1410.4M468 1498L530.6 1435.4M468 1523L530.6 1460.4M468 1547L530.6 1484.4M468 1572L530.6 1509.4M468 1597L530.6 1534.4M468 1622L530.6 1559.4M468 1647L530.6 1584.4M468 1672L530.6 1609.4M468 1696L530.6 1633.4M468 1721L530.6 1658.4M468 1746L530.6 1683.4M468 1771L530.6 1708.4M468 1796L530.6 1733.4"/>
<path fill="#a02c92" d="M467.75 1445.75h2.5v2.5h-2.5zM470.75 1442.75h2.5v2.5h-2.5zM467.75 1470.75h2.5v2.5h-2.5zM470.75 1467.75h2.5v2.5h-2.5zM473.75 1464.75h2.5v2.5h-2.5zM476.75 1461.75h2.5v2.5h-2.5zM479.75 1458.75h2.5v2.5h-2.5zM482.75 1455.75h2.5v2.5h-2.5zM485.75 1452.75h2.5v2.5h-2.5zM488.75 1449.75h2.5v2.5h-2.5zM491.75 1446.75h2.5v2.5h-2.5zM494.75 1443.75h2.5v2.5h-2.5zM467.75 1495.75h2.5v2.5h-2.5zM470.75 1492.75h2.5v2.5h-2.5zM473.75 1489.75h2.5v2.5h-2.5zM476.75 1486.75h2.5v2.5h-2.5zM479.75 1483.75h2.5v2.5h-2.5zM482.75 1480.75h2.5v2.5h-2.5zM485.75 1477.75h2.5v2.5h-2.5zM488.75 1474.75h2.5v2.5h-2.5zM491.75 1471.75h2.5v2.5h-2.5zM494.75 1468.75h2.5v2.5h-2.5zM497.75 1465.75h2.5v2.5h-2.5zM500.75 1462.75h2.5v2.5h-2.5zM503.75 1459.75h2.5v2.5h-2.5zM506.75 1456.75h2.5v2.5h-2.5zM509.75 1453.75h2.5v2.5h-2.5zM512.75 1450.75h2.5v2.5h-2.5zM515.75 1447.75h2.5v2.5h-2.5zM518.75 1444.75h2.5v2.5h-2.5zM467.75 1520.75h2.5v2.5h-2.5zM470.75 1517.75h2.5v2.5h-2.5zM473.75 1514.75h2.5v2.5h-2.5zM476.75 1511.75h2.5v2.5h-2.5zM479.75 1508.75h2.5v2.5h-2.5zM482.75 1505.75h2.5v2.5h-2.5zM485.75 1502.75h2.5v2.5h-2.5zM488.75 1499.75h2.5v2.5h-2.5zM491.75 1496.75h2.5v2.5h-2.5zM494.75 1493.75h2.5v2.5h-2.5zM497.75 1490.75h2.5v2.5h-2.5zM500.75 1487.75h2.5v2.5h-2.5zM503.75 1484.75h2.5v2.5h-2.5zM506.75 1481.75h2.5v2.5h-2.5zM509.75 1478.75h2.5v2.5h-2.5zM512.75 1475.75h2.5v2.5h-2.5zM515.75 1472.75h2.5v2.5h-2.5zM518.75 1469.75h2.5v2.5h-2.5zM521.75 1466.75h2.5v2.5h-2.5zM524.75 1463.75h2.5v2.5h-2.5zM527.75 1460.75h2.5v2.5h-2.5zM467.75 1544.75h2.5v2.5h-2.5zM470.75 1541.75h2.5v2.5h-2.5zM473.75 1538.75h2.5v2.5h-2.5zM476.75 1535.75h2.5v2.5h-2.5zM479.75 1532.75h2.5v2.5h-2.5zM482.75 1529.75h2.5v2.5h-2.5zM485.75 1526.75h2.5v2.5h-2.5zM488.75 1523.75h2.5v2.5h-2.5zM491.75 1520.75h2.5v2.5h-2.5zM494.75 1517.75h2.5v2.5h-2.5zM497.75 1514.75h2.5v2.5h-2.5zM500.75 1511.75h2.5v2.5h-2.5zM503.75 1508.75h2.5v2.5h-2.5zM506.75 1505.75h2.5v2.5h-2.5zM509.75 1502.75h2.5v2.5h-2.5zM512.75 1499.75h2.5v2.5h-2.5zM515.75 1496.75h2.5v2.5h-2.5zM518.75 1493.75h2.5v2.5h-2.5zM521.75 1490.75h2.5v2.5h-2.5zM524.75 1487.75h2.5v2.5h-2.5zM527.75 1484.75h2.5v2.5h-2.5zM467.75 1569.75h2.5v2.5h-2.5zM470.75 1566.75h2.5v2.5h-2.5zM473.75 1563.75h2.5v2.5h-2.5zM476.75 1560.75h2.5v2.5h-2.5zM479.75 1557.75h2.5v2.5h-2.5zM482.75 1554.75h2.5v2.5h-2.5zM485.75 1551.75h2.5v2.5h-2.5zM488.75 1548.75h2.5v2.5h-2.5zM491.75 1545.75h2.5v2.5h-2.5zM494.75 1542.75h2.5v2.5h-2.5zM497.75 1539.75h2.5v2.5h-2.5zM500.75 1536.75h2.5v2.5h-2.5zM503.75 1533.75h2.5v2.5h-2.5zM506.75 1530.75h2.5v2.5h-2.5zM509.75 1527.75h2.5v2.5h-2.5zM512.75 1524.75h2.5v2.5h-2.5zM515.75 1521.75h2.5v2.5h-2.5zM518.75 1518.75h2.5v2.5h-2.5zM521.75 1515.75h2.5v2.5h-2.5zM524.75 1512.75h2.5v2.5h-2.5zM527.75 1509.75h2.5v2.5h-2.5zM467.75 1594.75h2.5v2.5h-2.5zM470.75 1591.75h2.5v2.5h-2.5zM473.75 1588.75h2.5v2.5h-2.5zM476.75 1585.75h2.5v2.5h-2.5zM479.75 1582.75h2.5v2.5h-2.5zM482.75 1579.75h2.5v2.5h-2.5zM485.75 1576.75h2.5v2.5h-2.5zM488.75 1573.75h2.5v2.5h-2.5zM491.75 1570.75h2.5v2.5h-2.5zM494.75 1567.75h2.5v2.5h-2.5zM497.75 1564.75h2.5v2.5h-2.5zM500.75 1561.75h2.5v2.5h-2.5zM503.75 1558.75h2.5v2.5h-2.5zM506.75 1555.75h2.5v2.5h-2.5zM509.75 1552.75h2.5v2.5h-2.5zM512.75 1549.75h2.5v2.5h-2.5zM515.75 1546.75h2.5v2.5h-2.5zM518.75 1543.75h2.5v2.5h-2.5zM521.75 1540.75h2.5v2.5h-2.5zM524.75 1537.75h2.5v2.5h-2.5zM527.75 1534.75h2.5v2.5h-2.5zM467.75 1619.75h2.5v2.5h-2.5zM470.75 1616.75h2.5v2.5h-2.5zM473.75 1613.75h2.5v2.5h-2.5zM476.75 1610.75h2.5v2.5h-2.5zM479.75 1607.75h2.5v2.5h-2.5zM482.75 1604.75h2.5v2.5h-2.5zM485.75 1601.75h2.5v2.5h-2.5zM488.75 1598.75h2.5v2.5h-2.5zM491.75 1595.75h2.5v2.5h-2.5zM494.75 1592.75h2.5v2.5h-2.5zM497.75 1589.75h2.5v2.5h-2.5zM500.75 1586.75h2.5v2.5h-2.5zM503.75 1583.75h2.5v2.5h-2.5zM506.75 1580.75h2.5v2.5h-2.5zM509.75 1577.75h2.5v2.5h-2.5zM512.75 1574.75h2.5v2.5h-2.5zM515.75 1571.75h2.5v2.5h-2.5zM518.75 1568.75h2.5v2.5h-2.5zM521.75 1565.75h2.5v2.5h-2.5zM524.75 1562.75h2.5v2.5h-2.5zM527.75 1559.75h2.5v2.5h-2.5zM467.75 1644.75h2.5v2.5h-2.5zM470.75 1641.75h2.5v2.5h-2.5zM473.75 1638.75h2.5v2.5h-2.5zM476.75 1635.75h2.5v2.5h-2.5zM479.75 1632.75h2.5v2.5h-2.5zM482.75 1629.75h2.5v2.5h-2.5zM485.75 1626.75h2.5v2.5h-2.5zM488.75 1623.75h2.5v2.5h-2.5zM491.75 1620.75h2.5v2.5h-2.5zM494.75 1617.75h2.5v2.5h-2.5zM497.75 1614.75h2.5v2.5h-2.5zM500.75 1611.75h2.5v2.5h-2.5zM503.75 1608.75h2.5v2.5h-2.5zM506.75 1605.75h2.5v2.5h-2.5zM509.75 1602.75h2.5v2.5h-2.5zM512.75 1599.75h2.5v2.5h-2.5zM515.75 1596.75h2.5v2.5h-2.5zM518.75 1593.75h2.5v2.5h-2.5zM521.75 1590.75h2.5v2.5h-2.5zM524.75 1587.75h2.5v2.5h-2.5zM527.75 1584.75h2.5v2.5h-2.5zM467.75 1669.75h2.5v2.5h-2.5zM470.75 1666.75h2.5v2.5h-2.5zM473.75 1663.75h2.5v2.5h-2.5zM476.75 1660.75h2.5v2.5h-2.5zM479.75 1657.75h2.5v2.5h-2.5zM482.75 1654.75h2.5v2.5h-2.5zM485.75 1651.75h2.5v2.5h-2.5zM488.75 1648.75h2.5v2.5h-2.5zM491.75 1645.75h2.5v2.5h-2.5zM494.75 1642.75h2.5v2.5h-2.5zM497.75 1639.75h2.5v2.5h-2.5zM500.75 1636.75h2.5v2.5h-2.5zM503.75 1633.75h2.5v2.5h-2.5zM506.75 1630.75h2.5v2.5h-2.5zM509.75 1627.75h2.5v2.5h-2.5zM512.75 1624.75h2.5v2.5h-2.5zM515.75 1621.75h2.5v2.5h-2.5zM518.75 1618.75h2.5v2.5h-2.5zM521.75 1615.75h2.5v2.5h-2.5zM524.75 1612.75h2.5v2.5h-2.5zM527.75 1609.75h2.5v2.5h-2.5zM470.75 1690.75h2.5v2.5h-2.5zM473.75 1687.75h2.5v2.5h-2.5zM476.75 1684.75h2.5v2.5h-2.5zM479.75 1681.75h2.5v2.5h-2.5zM482.75 1678.75h2.5v2.5h-2.5zM485.75 1675.75h2.5v2.5h-2.5zM488.75 1672.75h2.5v2.5h-2.5zM491.75 1669.75h2.5v2.5h-2.5zM494.75 1666.75h2.5v2.5h-2.5zM497.75 1663.75h2.5v2.5h-2.5zM500.75 1660.75h2.5v2.5h-2.5zM503.75 1657.75h2.5v2.5h-2.5zM506.75 1654.75h2.5v2.5h-2.5zM509.75 1651.75h2.5v2.5h-2.5zM512.75 1648.75h2.5v2.5h-2.5zM515.75 1645.75h2.5v2.5h-2.5zM518.75 1642.75h2.5v2.5h-2.5zM521.75 1639.75h2.5v2.5h-2.5zM524.75 1636.75h2.5v2.5h-2.5zM527.75 1633.75h2.5v2.5h-2.5zM494.75 1691.75h2.5v2.5h-2.5zM497.75 1688.75h2.5v2.5h-2.5zM500.75 1685.75h2.5v2.5h-2.5zM503.75 1682.75h2.5v2.5h-2.5zM506.75 1679.75h2.5v2.5h-2.5zM509.75 1676.75h2.5v2.5h-2.5zM512.75 1673.75h2.5v2.5h-2.5zM515.75 1670.75h2.5v2.5h-2.5zM518.75 1667.75h2.5v2.5h-2.5zM521.75 1664.75h2.5v2.5h-2.5zM524.75 1661.75h2.5v2.5h-2.5zM527.75 1658.75h2.5v2.5h-2.5zM521.75 1689.75h2.5v2.5h-2.5zM524.75 1686.75h2.5v2.5h-2.5zM527.75 1683.75h2.5v2.5h-2.5z"/></g>
<rect x="471.0" y="1445.6" width="56.60" height="245.90" fill="none" stroke="#222" stroke-width="1.2"/>
<clipPath id="cb2"><rect x="752.7" y="1344.3" width="56.80" height="347.20"/></clipPath>
<rect x="752.7" y="1344.3" width="56.80" height="347.20" fill="#fff"/>
<g clip-path="url(#cb2)"><path fill="none" stroke="#eebbe9" stroke-width="2.8" d="M749.7 1316.3L812.5 1253.5M749.7 1341.3L812.5 1278.5M749.7 1366.3L812.5 1303.5M749.7 1391.3L812.5 1328.5M749.7 1416.3L812.5 1353.5M749.7 1440.3L812.5 1377.5M749.7 1465.3L812.5 1402.5M749.7 1490.3L812.5 1427.5M749.7 1515.3L812.5 1452.5M749.7 1540.3L812.5 1477.5M749.7 1565.3L812.5 1502.5M749.7 1590.3L812.5 1527.5M749.7 1614.3L812.5 1551.5M749.7 1639.3L812.5 1576.5M749.7 1664.3L812.5 1601.5M749.7 1689.3L812.5 1626.5M749.7 1714.3L812.5 1651.5M749.7 1739.3L812.5 1676.5M749.7 1764.3L812.5 1701.5M749.7 1788.3L812.5 1725.5"/>
<path fill="#a02c92" d="M748.75 1364.75h2.5v2.5h-2.5zM751.75 1361.75h2.5v2.5h-2.5zM754.75 1358.75h2.5v2.5h-2.5zM757.75 1355.75h2.5v2.5h-2.5zM760.75 1352.75h2.5v2.5h-2.5zM763.75 1349.75h2.5v2.5h-2.5zM766.75 1346.75h2.5v2.5h-2.5zM769.75 1343.75h2.5v2.5h-2.5zM748.75 1389.75h2.5v2.5h-2.5zM751.75 1386.75h2.5v2.5h-2.5zM754.75 1383.75h2.5v2.5h-2.5zM757.75 1380.75h2.5v2.5h-2.5zM760.75 1377.75h2.5v2.5h-2.5zM763.75 1374.75h2.5v2.5h-2.5zM766.75 1371.75h2.5v2.5h-2.5zM769.75 1368.75h2.5v2.5h-2.5zM772.75 1365.75h2.5v2.5h-2.5zM775.75 1362.75h2.5v2.5h-2.5zM778.75 1359.75h2.5v2.5h-2.5zM781.75 1356.75h2.5v2.5h-2.5zM784.75 1353.75h2.5v2.5h-2.5zM787.75 1350.75h2.5v2.5h-2.5zM790.75 1347.75h2.5v2.5h-2.5zM793.75 1344.75h2.5v2.5h-2.5zM796.75 1341.75h2.5v2.5h-2.5zM748.75 1414.75h2.5v2.5h-2.5zM751.75 1411.75h2.5v2.5h-2.5zM754.75 1408.75h2.5v2.5h-2.5zM757.75 1405.75h2.5v2.5h-2.5zM760.75 1402.75h2.5v2.5h-2.5zM763.75 1399.75h2.5v2.5h-2.5zM766.75 1396.75h2.5v2.5h-2.5zM769.75 1393.75h2.5v2.5h-2.5zM772.75 1390.75h2.5v2.5h-2.5zM775.75 1387.75h2.5v2.5h-2.5zM778.75 1384.75h2.5v2.5h-2.5zM781.75 1381.75h2.5v2.5h-2.5zM784.75 1378.75h2.5v2.5h-2.5zM787.75 1375.75h2.5v2.5h-2.5zM790.75 1372.75h2.5v2.5h-2.5zM793.75 1369.75h2.5v2.5h-2.5zM796.75 1366.75h2.5v2.5h-2.5zM799.75 1363.75h2.5v2.5h-2.5zM802.75 1360.75h2.5v2.5h-2.5zM805.75 1357.75h2.5v2.5h-2.5zM808.75 1354.75h2.5v2.5h-2.5zM748.75 1438.75h2.5v2.5h-2.5zM751.75 1435.75h2.5v2.5h-2.5zM754.75 1432.75h2.5v2.5h-2.5zM757.75 1429.75h2.5v2.5h-2.5zM760.75 1426.75h2.5v2.5h-2.5zM763.75 1423.75h2.5v2.5h-2.5zM766.75 1420.75h2.5v2.5h-2.5zM769.75 1417.75h2.5v2.5h-2.5zM772.75 1414.75h2.5v2.5h-2.5zM775.75 1411.75h2.5v2.5h-2.5zM778.75 1408.75h2.5v2.5h-2.5zM781.75 1405.75h2.5v2.5h-2.5zM784.75 1402.75h2.5v2.5h-2.5zM787.75 1399.75h2.5v2.5h-2.5zM790.75 1396.75h2.5v2.5h-2.5zM793.75 1393.75h2.5v2.5h-2.5zM796.75 1390.75h2.5v2.5h-2.5zM799.75 1387.75h2.5v2.5h-2.5zM802.75 1384.75h2.5v2.5h-2.5zM805.75 1381.75h2.5v2.5h-2.5zM808.75 1378.75h2.5v2.5h-2.5zM748.75 1463.75h2.5v2.5h-2.5zM751.75 1460.75h2.5v2.5h-2.5zM754.75 1457.75h2.5v2.5h-2.5zM757.75 1454.75h2.5v2.5h-2.5zM760.75 1451.75h2.5v2.5h-2.5zM763.75 1448.75h2.5v2.5h-2.5zM766.75 1445.75h2.5v2.5h-2.5zM769.75 1442.75h2.5v2.5h-2.5zM772.75 1439.75h2.5v2.5h-2.5zM775.75 1436.75h2.5v2.5h-2.5zM778.75 1433.75h2.5v2.5h-2.5zM781.75 1430.75h2.5v2.5h-2.5zM784.75 1427.75h2.5v2.5h-2.5zM787.75 1424.75h2.5v2.5h-2.5zM790.75 1421.75h2.5v2.5h-2.5zM793.75 1418.75h2.5v2.5h-2.5zM796.75 1415.75h2.5v2.5h-2.5zM799.75 1412.75h2.5v2.5h-2.5zM802.75 1409.75h2.5v2.5h-2.5zM805.75 1406.75h2.5v2.5h-2.5zM808.75 1403.75h2.5v2.5h-2.5zM748.75 1488.75h2.5v2.5h-2.5zM751.75 1485.75h2.5v2.5h-2.5zM754.75 1482.75h2.5v2.5h-2.5zM757.75 1479.75h2.5v2.5h-2.5zM760.75 1476.75h2.5v2.5h-2.5zM763.75 1473.75h2.5v2.5h-2.5zM766.75 1470.75h2.5v2.5h-2.5zM769.75 1467.75h2.5v2.5h-2.5zM772.75 1464.75h2.5v2.5h-2.5zM775.75 1461.75h2.5v2.5h-2.5zM778.75 1458.75h2.5v2.5h-2.5zM781.75 1455.75h2.5v2.5h-2.5zM784.75 1452.75h2.5v2.5h-2.5zM787.75 1449.75h2.5v2.5h-2.5zM790.75 1446.75h2.5v2.5h-2.5zM793.75 1443.75h2.5v2.5h-2.5zM796.75 1440.75h2.5v2.5h-2.5zM799.75 1437.75h2.5v2.5h-2.5zM802.75 1434.75h2.5v2.5h-2.5zM805.75 1431.75h2.5v2.5h-2.5zM808.75 1428.75h2.5v2.5h-2.5zM748.75 1513.75h2.5v2.5h-2.5zM751.75 1510.75h2.5v2.5h-2.5zM754.75 1507.75h2.5v2.5h-2.5zM757.75 1504.75h2.5v2.5h-2.5zM760.75 1501.75h2.5v2.5h-2.5zM763.75 1498.75h2.5v2.5h-2.5zM766.75 1495.75h2.5v2.5h-2.5zM769.75 1492.75h2.5v2.5h-2.5zM772.75 1489.75h2.5v2.5h-2.5zM775.75 1486.75h2.5v2.5h-2.5zM778.75 1483.75h2.5v2.5h-2.5zM781.75 1480.75h2.5v2.5h-2.5zM784.75 1477.75h2.5v2.5h-2.5zM787.75 1474.75h2.5v2.5h-2.5zM790.75 1471.75h2.5v2.5h-2.5zM793.75 1468.75h2.5v2.5h-2.5zM796.75 1465.75h2.5v2.5h-2.5zM799.75 1462.75h2.5v2.5h-2.5zM802.75 1459.75h2.5v2.5h-2.5zM805.75 1456.75h2.5v2.5h-2.5zM808.75 1453.75h2.5v2.5h-2.5zM748.75 1538.75h2.5v2.5h-2.5zM751.75 1535.75h2.5v2.5h-2.5zM754.75 1532.75h2.5v2.5h-2.5zM757.75 1529.75h2.5v2.5h-2.5zM760.75 1526.75h2.5v2.5h-2.5zM763.75 1523.75h2.5v2.5h-2.5zM766.75 1520.75h2.5v2.5h-2.5zM769.75 1517.75h2.5v2.5h-2.5zM772.75 1514.75h2.5v2.5h-2.5zM775.75 1511.75h2.5v2.5h-2.5zM778.75 1508.75h2.5v2.5h-2.5zM781.75 1505.75h2.5v2.5h-2.5zM784.75 1502.75h2.5v2.5h-2.5zM787.75 1499.75h2.5v2.5h-2.5zM790.75 1496.75h2.5v2.5h-2.5zM793.75 1493.75h2.5v2.5h-2.5zM796.75 1490.75h2.5v2.5h-2.5zM799.75 1487.75h2.5v2.5h-2.5zM802.75 1484.75h2.5v2.5h-2.5zM805.75 1481.75h2.5v2.5h-2.5zM808.75 1478.75h2.5v2.5h-2.5zM748.75 1563.75h2.5v2.5h-2.5zM751.75 1560.75h2.5v2.5h-2.5zM754.75 1557.75h2.5v2.5h-2.5zM757.75 1554.75h2.5v2.5h-2.5zM760.75 1551.75h2.5v2.5h-2.5zM763.75 1548.75h2.5v2.5h-2.5zM766.75 1545.75h2.5v2.5h-2.5zM769.75 1542.75h2.5v2.5h-2.5zM772.75 1539.75h2.5v2.5h-2.5zM775.75 1536.75h2.5v2.5h-2.5zM778.75 1533.75h2.5v2.5h-2.5zM781.75 1530.75h2.5v2.5h-2.5zM784.75 1527.75h2.5v2.5h-2.5zM787.75 1524.75h2.5v2.5h-2.5zM790.75 1521.75h2.5v2.5h-2.5zM793.75 1518.75h2.5v2.5h-2.5zM796.75 1515.75h2.5v2.5h-2.5zM799.75 1512.75h2.5v2.5h-2.5zM802.75 1509.75h2.5v2.5h-2.5zM805.75 1506.75h2.5v2.5h-2.5zM808.75 1503.75h2.5v2.5h-2.5zM748.75 1588.75h2.5v2.5h-2.5zM751.75 1585.75h2.5v2.5h-2.5zM754.75 1582.75h2.5v2.5h-2.5zM757.75 1579.75h2.5v2.5h-2.5zM760.75 1576.75h2.5v2.5h-2.5zM763.75 1573.75h2.5v2.5h-2.5zM766.75 1570.75h2.5v2.5h-2.5zM769.75 1567.75h2.5v2.5h-2.5zM772.75 1564.75h2.5v2.5h-2.5zM775.75 1561.75h2.5v2.5h-2.5zM778.75 1558.75h2.5v2.5h-2.5zM781.75 1555.75h2.5v2.5h-2.5zM784.75 1552.75h2.5v2.5h-2.5zM787.75 1549.75h2.5v2.5h-2.5zM790.75 1546.75h2.5v2.5h-2.5zM793.75 1543.75h2.5v2.5h-2.5zM796.75 1540.75h2.5v2.5h-2.5zM799.75 1537.75h2.5v2.5h-2.5zM802.75 1534.75h2.5v2.5h-2.5zM805.75 1531.75h2.5v2.5h-2.5zM808.75 1528.75h2.5v2.5h-2.5zM748.75 1612.75h2.5v2.5h-2.5zM751.75 1609.75h2.5v2.5h-2.5zM754.75 1606.75h2.5v2.5h-2.5zM757.75 1603.75h2.5v2.5h-2.5zM760.75 1600.75h2.5v2.5h-2.5zM763.75 1597.75h2.5v2.5h-2.5zM766.75 1594.75h2.5v2.5h-2.5zM769.75 1591.75h2.5v2.5h-2.5zM772.75 1588.75h2.5v2.5h-2.5zM775.75 1585.75h2.5v2.5h-2.5zM778.75 1582.75h2.5v2.5h-2.5zM781.75 1579.75h2.5v2.5h-2.5zM784.75 1576.75h2.5v2.5h-2.5zM787.75 1573.75h2.5v2.5h-2.5zM790.75 1570.75h2.5v2.5h-2.5zM793.75 1567.75h2.5v2.5h-2.5zM796.75 1564.75h2.5v2.5h-2.5zM799.75 1561.75h2.5v2.5h-2.5zM802.75 1558.75h2.5v2.5h-2.5zM805.75 1555.75h2.5v2.5h-2.5zM808.75 1552.75h2.5v2.5h-2.5zM748.75 1637.75h2.5v2.5h-2.5zM751.75 1634.75h2.5v2.5h-2.5zM754.75 1631.75h2.5v2.5h-2.5zM757.75 1628.75h2.5v2.5h-2.5zM760.75 1625.75h2.5v2.5h-2.5zM763.75 1622.75h2.5v2.5h-2.5zM766.75 1619.75h2.5v2.5h-2.5zM769.75 1616.75h2.5v2.5h-2.5zM772.75 1613.75h2.5v2.5h-2.5zM775.75 1610.75h2.5v2.5h-2.5zM778.75 1607.75h2.5v2.5h-2.5zM781.75 1604.75h2.5v2.5h-2.5zM784.75 1601.75h2.5v2.5h-2.5zM787.75 1598.75h2.5v2.5h-2.5zM790.75 1595.75h2.5v2.5h-2.5zM793.75 1592.75h2.5v2.5h-2.5zM796.75 1589.75h2.5v2.5h-2.5zM799.75 1586.75h2.5v2.5h-2.5zM802.75 1583.75h2.5v2.5h-2.5zM805.75 1580.75h2.5v2.5h-2.5zM808.75 1577.75h2.5v2.5h-2.5zM748.75 1662.75h2.5v2.5h-2.5zM751.75 1659.75h2.5v2.5h-2.5zM754.75 1656.75h2.5v2.5h-2.5zM757.75 1653.75h2.5v2.5h-2.5zM760.75 1650.75h2.5v2.5h-2.5zM763.75 1647.75h2.5v2.5h-2.5zM766.75 1644.75h2.5v2.5h-2.5zM769.75 1641.75h2.5v2.5h-2.5zM772.75 1638.75h2.5v2.5h-2.5zM775.75 1635.75h2.5v2.5h-2.5zM778.75 1632.75h2.5v2.5h-2.5zM781.75 1629.75h2.5v2.5h-2.5zM784.75 1626.75h2.5v2.5h-2.5zM787.75 1623.75h2.5v2.5h-2.5zM790.75 1620.75h2.5v2.5h-2.5zM793.75 1617.75h2.5v2.5h-2.5zM796.75 1614.75h2.5v2.5h-2.5zM799.75 1611.75h2.5v2.5h-2.5zM802.75 1608.75h2.5v2.5h-2.5zM805.75 1605.75h2.5v2.5h-2.5zM808.75 1602.75h2.5v2.5h-2.5zM748.75 1687.75h2.5v2.5h-2.5zM751.75 1684.75h2.5v2.5h-2.5zM754.75 1681.75h2.5v2.5h-2.5zM757.75 1678.75h2.5v2.5h-2.5zM760.75 1675.75h2.5v2.5h-2.5zM763.75 1672.75h2.5v2.5h-2.5zM766.75 1669.75h2.5v2.5h-2.5zM769.75 1666.75h2.5v2.5h-2.5zM772.75 1663.75h2.5v2.5h-2.5zM775.75 1660.75h2.5v2.5h-2.5zM778.75 1657.75h2.5v2.5h-2.5zM781.75 1654.75h2.5v2.5h-2.5zM784.75 1651.75h2.5v2.5h-2.5zM787.75 1648.75h2.5v2.5h-2.5zM790.75 1645.75h2.5v2.5h-2.5zM793.75 1642.75h2.5v2.5h-2.5zM796.75 1639.75h2.5v2.5h-2.5zM799.75 1636.75h2.5v2.5h-2.5zM802.75 1633.75h2.5v2.5h-2.5zM805.75 1630.75h2.5v2.5h-2.5zM808.75 1627.75h2.5v2.5h-2.5zM769.75 1691.75h2.5v2.5h-2.5zM772.75 1688.75h2.5v2.5h-2.5zM775.75 1685.75h2.5v2.5h-2.5zM778.75 1682.75h2.5v2.5h-2.5zM781.75 1679.75h2.5v2.5h-2.5zM784.75 1676.75h2.5v2.5h-2.5zM787.75 1673.75h2.5v2.5h-2.5zM790.75 1670.75h2.5v2.5h-2.5zM793.75 1667.75h2.5v2.5h-2.5zM796.75 1664.75h2.5v2.5h-2.5zM799.75 1661.75h2.5v2.5h-2.5zM802.75 1658.75h2.5v2.5h-2.5zM805.75 1655.75h2.5v2.5h-2.5zM808.75 1652.75h2.5v2.5h-2.5zM796.75 1689.75h2.5v2.5h-2.5zM799.75 1686.75h2.5v2.5h-2.5zM802.75 1683.75h2.5v2.5h-2.5zM805.75 1680.75h2.5v2.5h-2.5zM808.75 1677.75h2.5v2.5h-2.5z"/></g>
<rect x="752.7" y="1344.3" width="56.80" height="347.20" fill="none" stroke="#222" stroke-width="1.2"/>
<clipPath id="cb3"><rect x="997.5" y="1148.3" width="56.20" height="543.20"/></clipPath>
<rect x="997.5" y="1148.3" width="56.20" height="543.20" fill="#fff"/>
<g clip-path="url(#cb3)"><path fill="none" stroke="#eebbe9" stroke-width="2.8" d="M994.5 1121.5L1056.7 1059.3M994.5 1146.5L1056.7 1084.3M994.5 1171.5L1056.7 1109.3M994.5 1196.5L1056.7 1134.3M994.5 1220.5L1056.7 1158.3M994.5 1245.5L1056.7 1183.3M994.5 1270.5L1056.7 1208.3M994.5 1295.5L1056.7 1233.3M994.5 1320.5L1056.7 1258.3M994.5 1345.5L1056.7 1283.3M994.5 1370.5L1056.7 1308.3M994.5 1394.5L1056.7 1332.3M994.5 1419.5L1056.7 1357.3M994.5 1444.5L1056.7 1382.3M994.5 1469.5L1056.7 1407.3M994.5 1494.5L1056.7 1432.3M994.5 1519.5L1056.7 1457.3M994.5 1544.5L1056.7 1482.3M994.5 1568.5L1056.7 1506.3M994.5 1593.5L1056.7 1531.3M994.5 1618.5L1056.7 1556.3M994.5 1643.5L1056.7 1581.3M994.5 1668.5L1056.7 1606.3M994.5 1693.5L1056.7 1631.3M994.5 1717.5L1056.7 1655.3M994.5 1742.5L1056.7 1680.3M994.5 1767.5L1056.7 1705.3M994.5 1792.5L1056.7 1730.3"/>
<path fill="#a02c92" d="M993.75 1169.75h2.5v2.5h-2.5zM996.75 1166.75h2.5v2.5h-2.5zM999.75 1163.75h2.5v2.5h-2.5zM1002.75 1160.75h2.5v2.5h-2.5zM1005.75 1157.75h2.5v2.5h-2.5zM1008.75 1154.75h2.5v2.5h-2.5zM1011.75 1151.75h2.5v2.5h-2.5zM1014.75 1148.75h2.5v2.5h-2.5zM1017.75 1145.75h2.5v2.5h-2.5zM993.75 1194.75h2.5v2.5h-2.5zM996.75 1191.75h2.5v2.5h-2.5zM999.75 1188.75h2.5v2.5h-2.5zM1002.75 1185.75h2.5v2.5h-2.5zM1005.75 1182.75h2.5v2.5h-2.5zM1008.75 1179.75h2.5v2.5h-2.5zM1011.75 1176.75h2.5v2.5h-2.5zM1014.75 1173.75h2.5v2.5h-2.5zM1017.75 1170.75h2.5v2.5h-2.5zM1020.75 1167.75h2.5v2.5h-2.5zM1023.75 1164.75h2.5v2.5h-2.5zM1026.75 1161.75h2.5v2.5h-2.5zM1029.75 1158.75h2.5v2.5h-2.5zM1032.75 1155.75h2.5v2.5h-2.5zM1035.75 1152.75h2.5v2.5h-2.5zM1038.75 1149.75h2.5v2.5h-2.5zM1041.75 1146.75h2.5v2.5h-2.5zM993.75 1218.75h2.5v2.5h-2.5zM996.75 1215.75h2.5v2.5h-2.5zM999.75 1212.75h2.5v2.5h-2.5zM1002.75 1209.75h2.5v2.5h-2.5zM1005.75 1206.75h2.5v2.5h-2.5zM1008.75 1203.75h2.5v2.5h-2.5zM1011.75 1200.75h2.5v2.5h-2.5zM1014.75 1197.75h2.5v2.5h-2.5zM1017.75 1194.75h2.5v2.5h-2.5zM1020.75 1191.75h2.5v2.5h-2.5zM1023.75 1188.75h2.5v2.5h-2.5zM1026.75 1185.75h2.5v2.5h-2.5zM1029.75 1182.75h2.5v2.5h-2.5zM1032.75 1179.75h2.5v2.5h-2.5zM1035.75 1176.75h2.5v2.5h-2.5zM1038.75 1173.75h2.5v2.5h-2.5zM1041.75 1170.75h2.5v2.5h-2.5zM1044.75 1167.75h2.5v2.5h-2.5zM1047.75 1164.75h2.5v2.5h-2.5zM1050.75 1161.75h2.5v2.5h-2.5zM1053.75 1158.75h2.5v2.5h-2.5zM993.75 1243.75h2.5v2.5h-2.5zM996.75 1240.75h2.5v2.5h-2.5zM999.75 1237.75h2.5v2.5h-2.5zM1002.75 1234.75h2.5v2.5h-2.5zM1005.75 1231.75h2.5v2.5h-2.5zM1008.75 1228.75h2.5v2.5h-2.5zM1011.75 1225.75h2.5v2.5h-2.5zM1014.75 1222.75h2.5v2.5h-2.5zM1017.75 1219.75h2.5v2.5h-2.5zM1020.75 1216.75h2.5v2.5h-2.5zM1023.75 1213.75h2.5v2.5h-2.5zM1026.75 1210.75h2.5v2.5h-2.5zM1029.75 1207.75h2.5v2.5h-2.5zM1032.75 1204.75h2.5v2.5h-2.5zM1035.75 1201.75h2.5v2.5h-2.5zM1038.75 1198.75h2.5v2.5h-2.5zM1041.75 1195.75h2.5v2.5h-2.5zM1044.75 1192.75h2.5v2.5h-2.5zM1047.75 1189.75h2.5v2.5h-2.5zM1050.75 1186.75h2.5v2.5h-2.5zM1053.75 1183.75h2.5v2.5h-2.5zM993.75 1268.75h2.5v2.5h-2.5zM996.75 1265.75h2.5v2.5h-2.5zM999.75 1262.75h2.5v2.5h-2.5zM1002.75 1259.75h2.5v2.5h-2.5zM1005.75 1256.75h2.5v2.5h-2.5zM1008.75 1253.75h2.5v2.5h-2.5zM1011.75 1250.75h2.5v2.5h-2.5zM1014.75 1247.75h2.5v2.5h-2.5zM1017.75 1244.75h2.5v2.5h-2.5zM1020.75 1241.75h2.5v2.5h-2.5zM1023.75 1238.75h2.5v2.5h-2.5zM1026.75 1235.75h2.5v2.5h-2.5zM1029.75 1232.75h2.5v2.5h-2.5zM1032.75 1229.75h2.5v2.5h-2.5zM1035.75 1226.75h2.5v2.5h-2.5zM1038.75 1223.75h2.5v2.5h-2.5zM1041.75 1220.75h2.5v2.5h-2.5zM1044.75 1217.75h2.5v2.5h-2.5zM1047.75 1214.75h2.5v2.5h-2.5zM1050.75 1211.75h2.5v2.5h-2.5zM1053.75 1208.75h2.5v2.5h-2.5zM993.75 1293.75h2.5v2.5h-2.5zM996.75 1290.75h2.5v2.5h-2.5zM999.75 1287.75h2.5v2.5h-2.5zM1002.75 1284.75h2.5v2.5h-2.5zM1005.75 1281.75h2.5v2.5h-2.5zM1008.75 1278.75h2.5v2.5h-2.5zM1011.75 1275.75h2.5v2.5h-2.5zM1014.75 1272.75h2.5v2.5h-2.5zM1017.75 1269.75h2.5v2.5h-2.5zM1020.75 1266.75h2.5v2.5h-2.5zM1023.75 1263.75h2.5v2.5h-2.5zM1026.75 1260.75h2.5v2.5h-2.5zM1029.75 1257.75h2.5v2.5h-2.5zM1032.75 1254.75h2.5v2.5h-2.5zM1035.75 1251.75h2.5v2.5h-2.5zM1038.75 1248.75h2.5v2.5h-2.5zM1041.75 1245.75h2.5v2.5h-2.5zM1044.75 1242.75h2.5v2.5h-2.5zM1047.75 1239.75h2.5v2.5h-2.5zM1050.75 1236.75h2.5v2.5h-2.5zM1053.75 1233.75h2.5v2.5h-2.5zM993.75 1318.75h2.5v2.5h-2.5zM996.75 1315.75h2.5v2.5h-2.5zM999.75 1312.75h2.5v2.5h-2.5zM1002.75 1309.75h2.5v2.5h-2.5zM1005.75 1306.75h2.5v2.5h-2.5zM1008.75 1303.75h2.5v2.5h-2.5zM1011.75 1300.75h2.5v2.5h-2.5zM1014.75 1297.75h2.5v2.5h-2.5zM1017.75 1294.75h2.5v2.5h-2.5zM1020.75 1291.75h2.5v2.5h-2.5zM1023.75 1288.75h2.5v2.5h-2.5zM1026.75 1285.75h2.5v2.5h-2.5zM1029.75 1282.75h2.5v2.5h-2.5zM1032.75 1279.75h2.5v2.5h-2.5zM1035.75 1276.75h2.5v2.5h-2.5zM1038.75 1273.75h2.5v2.5h-2.5zM1041.75 1270.75h2.5v2.5h-2.5zM1044.75 1267.75h2.5v2.5h-2.5zM1047.75 1264.75h2.5v2.5h-2.5zM1050.75 1261.75h2.5v2.5h-2.5zM1053.75 1258.75h2.5v2.5h-2.5zM993.75 1343.75h2.5v2.5h-2.5zM996.75 1340.75h2.5v2.5h-2.5zM999.75 1337.75h2.5v2.5h-2.5zM1002.75 1334.75h2.5v2.5h-2.5zM1005.75 1331.75h2.5v2.5h-2.5zM1008.75 1328.75h2.5v2.5h-2.5zM1011.75 1325.75h2.5v2.5h-2.5zM1014.75 1322.75h2.5v2.5h-2.5zM1017.75 1319.75h2.5v2.5h-2.5zM1020.75 1316.75h2.5v2.5h-2.5zM1023.75 1313.75h2.5v2.5h-2.5zM1026.75 1310.75h2.5v2.5h-2.5zM1029.75 1307.75h2.5v2.5h-2.5zM1032.75 1304.75h2.5v2.5h-2.5zM1035.75 1301.75h2.5v2.5h-2.5zM1038.75 1298.75h2.5v2.5h-2.5zM1041.75 1295.75h2.5v2.5h-2.5zM1044.75 1292.75h2.5v2.5h-2.5zM1047.75 1289.75h2.5v2.5h-2.5zM1050.75 1286.75h2.5v2.5h-2.5zM1053.75 1283.75h2.5v2.5h-2.5zM993.75 1368.75h2.5v2.5h-2.5zM996.75 1365.75h2.5v2.5h-2.5zM999.75 1362.75h2.5v2.5h-2.5zM1002.75 1359.75h2.5v2.5h-2.5zM1005.75 1356.75h2.5v2.5h-2.5zM1008.75 1353.75h2.5v2.5h-2.5zM1011.75 1350.75h2.5v2.5h-2.5zM1014.75 1347.75h2.5v2.5h-2.5zM1017.75 1344.75h2.5v2.5h-2.5zM1020.75 1341.75h2.5v2.5h-2.5zM1023.75 1338.75h2.5v2.5h-2.5zM1026.75 1335.75h2.5v2.5h-2.5zM1029.75 1332.75h2.5v2.5h-2.5zM1032.75 1329.75h2.5v2.5h-2.5zM1035.75 1326.75h2.5v2.5h-2.5zM1038.75 1323.75h2.5v2.5h-2.5zM1041.75 1320.75h2.5v2.5h-2.5zM1044.75 1317.75h2.5v2.5h-2.5zM1047.75 1314.75h2.5v2.5h-2.5zM1050.75 1311.75h2.5v2.5h-2.5zM1053.75 1308.75h2.5v2.5h-2.5zM993.75 1392.75h2.5v2.5h-2.5zM996.75 1389.75h2.5v2.5h-2.5zM999.75 1386.75h2.5v2.5h-2.5zM1002.75 1383.75h2.5v2.5h-2.5zM1005.75 1380.75h2.5v2.5h-2.5zM1008.75 1377.75h2.5v2.5h-2.5zM1011.75 1374.75h2.5v2.5h-2.5zM1014.75 1371.75h2.5v2.5h-2.5zM1017.75 1368.75h2.5v2.5h-2.5zM1020.75 1365.75h2.5v2.5h-2.5zM1023.75 1362.75h2.5v2.5h-2.5zM1026.75 1359.75h2.5v2.5h-2.5zM1029.75 1356.75h2.5v2.5h-2.5zM1032.75 1353.75h2.5v2.5h-2.5zM1035.75 1350.75h2.5v2.5h-2.5zM1038.75 1347.75h2.5v2.5h-2.5zM1041.75 1344.75h2.5v2.5h-2.5zM1044.75 1341.75h2.5v2.5h-2.5zM1047.75 1338.75h2.5v2.5h-2.5zM1050.75 1335.75h2.5v2.5h-2.5zM1053.75 1332.75h2.5v2.5h-2.5zM993.75 1417.75h2.5v2.5h-2.5zM996.75 1414.75h2.5v2.5h-2.5zM999.75 1411.75h2.5v2.5h-2.5zM1002.75 1408.75h2.5v2.5h-2.5zM1005.75 1405.75h2.5v2.5h-2.5zM1008.75 1402.75h2.5v2.5h-2.5zM1011.75 1399.75h2.5v2.5h-2.5zM1014.75 1396.75h2.5v2.5h-2.5zM1017.75 1393.75h2.5v2.5h-2.5zM1020.75 1390.75h2.5v2.5h-2.5zM1023.75 1387.75h2.5v2.5h-2.5zM1026.75 1384.75h2.5v2.5h-2.5zM1029.75 1381.75h2.5v2.5h-2.5zM1032.75 1378.75h2.5v2.5h-2.5zM1035.75 1375.75h2.5v2.5h-2.5zM1038.75 1372.75h2.5v2.5h-2.5zM1041.75 1369.75h2.5v2.5h-2.5zM1044.75 1366.75h2.5v2.5h-2.5zM1047.75 1363.75h2.5v2.5h-2.5zM1050.75 1360.75h2.5v2.5h-2.5zM1053.75 1357.75h2.5v2.5h-2.5zM993.75 1442.75h2.5v2.5h-2.5zM996.75 1439.75h2.5v2.5h-2.5zM999.75 1436.75h2.5v2.5h-2.5zM1002.75 1433.75h2.5v2.5h-2.5zM1005.75 1430.75h2.5v2.5h-2.5zM1008.75 1427.75h2.5v2.5h-2.5zM1011.75 1424.75h2.5v2.5h-2.5zM1014.75 1421.75h2.5v2.5h-2.5zM1017.75 1418.75h2.5v2.5h-2.5zM1020.75 1415.75h2.5v2.5h-2.5zM1023.75 1412.75h2.5v2.5h-2.5zM1026.75 1409.75h2.5v2.5h-2.5zM1029.75 1406.75h2.5v2.5h-2.5zM1032.75 1403.75h2.5v2.5h-2.5zM1035.75 1400.75h2.5v2.5h-2.5zM1038.75 1397.75h2.5v2.5h-2.5zM1041.75 1394.75h2.5v2.5h-2.5zM1044.75 1391.75h2.5v2.5h-2.5zM1047.75 1388.75h2.5v2.5h-2.5zM1050.75 1385.75h2.5v2.5h-2.5zM1053.75 1382.75h2.5v2.5h-2.5zM993.75 1467.75h2.5v2.5h-2.5zM996.75 1464.75h2.5v2.5h-2.5zM999.75 1461.75h2.5v2.5h-2.5zM1002.75 1458.75h2.5v2.5h-2.5zM1005.75 1455.75h2.5v2.5h-2.5zM1008.75 1452.75h2.5v2.5h-2.5zM1011.75 1449.75h2.5v2.5h-2.5zM1014.75 1446.75h2.5v2.5h-2.5zM1017.75 1443.75h2.5v2.5h-2.5zM1020.75 1440.75h2.5v2.5h-2.5zM1023.75 1437.75h2.5v2.5h-2.5zM1026.75 1434.75h2.5v2.5h-2.5zM1029.75 1431.75h2.5v2.5h-2.5zM1032.75 1428.75h2.5v2.5h-2.5zM1035.75 1425.75h2.5v2.5h-2.5zM1038.75 1422.75h2.5v2.5h-2.5zM1041.75 1419.75h2.5v2.5h-2.5zM1044.75 1416.75h2.5v2.5h-2.5zM1047.75 1413.75h2.5v2.5h-2.5zM1050.75 1410.75h2.5v2.5h-2.5zM1053.75 1407.75h2.5v2.5h-2.5zM993.75 1492.75h2.5v2.5h-2.5zM996.75 1489.75h2.5v2.5h-2.5zM999.75 1486.75h2.5v2.5h-2.5zM1002.75 1483.75h2.5v2.5h-2.5zM1005.75 1480.75h2.5v2.5h-2.5zM1008.75 1477.75h2.5v2.5h-2.5zM1011.75 1474.75h2.5v2.5h-2.5zM1014.75 1471.75h2.5v2.5h-2.5zM1017.75 1468.75h2.5v2.5h-2.5zM1020.75 1465.75h2.5v2.5h-2.5zM1023.75 1462.75h2.5v2.5h-2.5zM1026.75 1459.75h2.5v2.5h-2.5zM1029.75 1456.75h2.5v2.5h-2.5zM1032.75 1453.75h2.5v2.5h-2.5zM1035.75 1450.75h2.5v2.5h-2.5zM1038.75 1447.75h2.5v2.5h-2.5zM1041.75 1444.75h2.5v2.5h-2.5zM1044.75 1441.75h2.5v2.5h-2.5zM1047.75 1438.75h2.5v2.5h-2.5zM1050.75 1435.75h2.5v2.5h-2.5zM1053.75 1432.75h2.5v2.5h-2.5zM993.75 1517.75h2.5v2.5h-2.5zM996.75 1514.75h2.5v2.5h-2.5zM999.75 1511.75h2.5v2.5h-2.5zM1002.75 1508.75h2.5v2.5h-2.5zM1005.75 1505.75h2.5v2.5h-2.5zM1008.75 1502.75h2.5v2.5h-2.5zM1011.75 1499.75h2.5v2.5h-2.5zM1014.75 1496.75h2.5v2.5h-2.5zM1017.75 1493.75h2.5v2.5h-2.5zM1020.75 1490.75h2.5v2.5h-2.5zM1023.75 1487.75h2.5v2.5h-2.5zM1026.75 1484.75h2.5v2.5h-2.5zM1029.75 1481.75h2.5v2.5h-2.5zM1032.75 1478.75h2.5v2.5h-2.5zM1035.75 1475.75h2.5v2.5h-2.5zM1038.75 1472.75h2.5v2.5h-2.5zM1041.75 1469.75h2.5v2.5h-2.5zM1044.75 1466.75h2.5v2.5h-2.5zM1047.75 1463.75h2.5v2.5h-2.5zM1050.75 1460.75h2.5v2.5h-2.5zM1053.75 1457.75h2.5v2.5h-2.5zM993.75 1542.75h2.5v2.5h-2.5zM996.75 1539.75h2.5v2.5h-2.5zM999.75 1536.75h2.5v2.5h-2.5zM1002.75 1533.75h2.5v2.5h-2.5zM1005.75 1530.75h2.5v2.5h-2.5zM1008.75 1527.75h2.5v2.5h-2.5zM1011.75 1524.75h2.5v2.5h-2.5zM1014.75 1521.75h2.5v2.5h-2.5zM1017.75 1518.75h2.5v2.5h-2.5zM1020.75 1515.75h2.5v2.5h-2.5zM1023.75 1512.75h2.5v2.5h-2.5zM1026.75 1509.75h2.5v2.5h-2.5zM1029.75 1506.75h2.5v2.5h-2.5zM1032.75 1503.75h2.5v2.5h-2.5zM1035.75 1500.75h2.5v2.5h-2.5zM1038.75 1497.75h2.5v2.5h-2.5zM1041.75 1494.75h2.5v2.5h-2.5zM1044.75 1491.75h2.5v2.5h-2.5zM1047.75 1488.75h2.5v2.5h-2.5zM1050.75 1485.75h2.5v2.5h-2.5zM1053.75 1482.75h2.5v2.5h-2.5zM993.75 1566.75h2.5v2.5h-2.5zM996.75 1563.75h2.5v2.5h-2.5zM999.75 1560.75h2.5v2.5h-2.5zM1002.75 1557.75h2.5v2.5h-2.5zM1005.75 1554.75h2.5v2.5h-2.5zM1008.75 1551.75h2.5v2.5h-2.5zM1011.75 1548.75h2.5v2.5h-2.5zM1014.75 1545.75h2.5v2.5h-2.5zM1017.75 1542.75h2.5v2.5h-2.5zM1020.75 1539.75h2.5v2.5h-2.5zM1023.75 1536.75h2.5v2.5h-2.5zM1026.75 1533.75h2.5v2.5h-2.5zM1029.75 1530.75h2.5v2.5h-2.5zM1032.75 1527.75h2.5v2.5h-2.5zM1035.75 1524.75h2.5v2.5h-2.5zM1038.75 1521.75h2.5v2.5h-2.5zM1041.75 1518.75h2.5v2.5h-2.5zM1044.75 1515.75h2.5v2.5h-2.5zM1047.75 1512.75h2.5v2.5h-2.5zM1050.75 1509.75h2.5v2.5h-2.5zM1053.75 1506.75h2.5v2.5h-2.5zM993.75 1591.75h2.5v2.5h-2.5zM996.75 1588.75h2.5v2.5h-2.5zM999.75 1585.75h2.5v2.5h-2.5zM1002.75 1582.75h2.5v2.5h-2.5zM1005.75 1579.75h2.5v2.5h-2.5zM1008.75 1576.75h2.5v2.5h-2.5zM1011.75 1573.75h2.5v2.5h-2.5zM1014.75 1570.75h2.5v2.5h-2.5zM1017.75 1567.75h2.5v2.5h-2.5zM1020.75 1564.75h2.5v2.5h-2.5zM1023.75 1561.75h2.5v2.5h-2.5zM1026.75 1558.75h2.5v2.5h-2.5zM1029.75 1555.75h2.5v2.5h-2.5zM1032.75 1552.75h2.5v2.5h-2.5zM1035.75 1549.75h2.5v2.5h-2.5zM1038.75 1546.75h2.5v2.5h-2.5zM1041.75 1543.75h2.5v2.5h-2.5zM1044.75 1540.75h2.5v2.5h-2.5zM1047.75 1537.75h2.5v2.5h-2.5zM1050.75 1534.75h2.5v2.5h-2.5zM1053.75 1531.75h2.5v2.5h-2.5zM993.75 1616.75h2.5v2.5h-2.5zM996.75 1613.75h2.5v2.5h-2.5zM999.75 1610.75h2.5v2.5h-2.5zM1002.75 1607.75h2.5v2.5h-2.5zM1005.75 1604.75h2.5v2.5h-2.5zM1008.75 1601.75h2.5v2.5h-2.5zM1011.75 1598.75h2.5v2.5h-2.5zM1014.75 1595.75h2.5v2.5h-2.5zM1017.75 1592.75h2.5v2.5h-2.5zM1020.75 1589.75h2.5v2.5h-2.5zM1023.75 1586.75h2.5v2.5h-2.5zM1026.75 1583.75h2.5v2.5h-2.5zM1029.75 1580.75h2.5v2.5h-2.5zM1032.75 1577.75h2.5v2.5h-2.5zM1035.75 1574.75h2.5v2.5h-2.5zM1038.75 1571.75h2.5v2.5h-2.5zM1041.75 1568.75h2.5v2.5h-2.5zM1044.75 1565.75h2.5v2.5h-2.5zM1047.75 1562.75h2.5v2.5h-2.5zM1050.75 1559.75h2.5v2.5h-2.5zM1053.75 1556.75h2.5v2.5h-2.5zM993.75 1641.75h2.5v2.5h-2.5zM996.75 1638.75h2.5v2.5h-2.5zM999.75 1635.75h2.5v2.5h-2.5zM1002.75 1632.75h2.5v2.5h-2.5zM1005.75 1629.75h2.5v2.5h-2.5zM1008.75 1626.75h2.5v2.5h-2.5zM1011.75 1623.75h2.5v2.5h-2.5zM1014.75 1620.75h2.5v2.5h-2.5zM1017.75 1617.75h2.5v2.5h-2.5zM1020.75 1614.75h2.5v2.5h-2.5zM1023.75 1611.75h2.5v2.5h-2.5zM1026.75 1608.75h2.5v2.5h-2.5zM1029.75 1605.75h2.5v2.5h-2.5zM1032.75 1602.75h2.5v2.5h-2.5zM1035.75 1599.75h2.5v2.5h-2.5zM1038.75 1596.75h2.5v2.5h-2.5zM1041.75 1593.75h2.5v2.5h-2.5zM1044.75 1590.75h2.5v2.5h-2.5zM1047.75 1587.75h2.5v2.5h-2.5zM1050.75 1584.75h2.5v2.5h-2.5zM1053.75 1581.75h2.5v2.5h-2.5zM993.75 1666.75h2.5v2.5h-2.5zM996.75 1663.75h2.5v2.5h-2.5zM999.75 1660.75h2.5v2.5h-2.5zM1002.75 1657.75h2.5v2.5h-2.5zM1005.75 1654.75h2.5v2.5h-2.5zM1008.75 1651.75h2.5v2.5h-2.5zM1011.75 1648.75h2.5v2.5h-2.5zM1014.75 1645.75h2.5v2.5h-2.5zM1017.75 1642.75h2.5v2.5h-2.5zM1020.75 1639.75h2.5v2.5h-2.5zM1023.75 1636.75h2.5v2.5h-2.5zM1026.75 1633.75h2.5v2.5h-2.5zM1029.75 1630.75h2.5v2.5h-2.5zM1032.75 1627.75h2.5v2.5h-2.5zM1035.75 1624.75h2.5v2.5h-2.5zM1038.75 1621.75h2.5v2.5h-2.5zM1041.75 1618.75h2.5v2.5h-2.5zM1044.75 1615.75h2.5v2.5h-2.5zM1047.75 1612.75h2.5v2.5h-2.5zM1050.75 1609.75h2.5v2.5h-2.5zM1053.75 1606.75h2.5v2.5h-2.5zM993.75 1691.75h2.5v2.5h-2.5zM996.75 1688.75h2.5v2.5h-2.5zM999.75 1685.75h2.5v2.5h-2.5zM1002.75 1682.75h2.5v2.5h-2.5zM1005.75 1679.75h2.5v2.5h-2.5zM1008.75 1676.75h2.5v2.5h-2.5zM1011.75 1673.75h2.5v2.5h-2.5zM1014.75 1670.75h2.5v2.5h-2.5zM1017.75 1667.75h2.5v2.5h-2.5zM1020.75 1664.75h2.5v2.5h-2.5zM1023.75 1661.75h2.5v2.5h-2.5zM1026.75 1658.75h2.5v2.5h-2.5zM1029.75 1655.75h2.5v2.5h-2.5zM1032.75 1652.75h2.5v2.5h-2.5zM1035.75 1649.75h2.5v2.5h-2.5zM1038.75 1646.75h2.5v2.5h-2.5zM1041.75 1643.75h2.5v2.5h-2.5zM1044.75 1640.75h2.5v2.5h-2.5zM1047.75 1637.75h2.5v2.5h-2.5zM1050.75 1634.75h2.5v2.5h-2.5zM1053.75 1631.75h2.5v2.5h-2.5zM1017.75 1691.75h2.5v2.5h-2.5zM1020.75 1688.75h2.5v2.5h-2.5zM1023.75 1685.75h2.5v2.5h-2.5zM1026.75 1682.75h2.5v2.5h-2.5zM1029.75 1679.75h2.5v2.5h-2.5zM1032.75 1676.75h2.5v2.5h-2.5zM1035.75 1673.75h2.5v2.5h-2.5zM1038.75 1670.75h2.5v2.5h-2.5zM1041.75 1667.75h2.5v2.5h-2.5zM1044.75 1664.75h2.5v2.5h-2.5zM1047.75 1661.75h2.5v2.5h-2.5zM1050.75 1658.75h2.5v2.5h-2.5zM1053.75 1655.75h2.5v2.5h-2.5zM1044.75 1689.75h2.5v2.5h-2.5zM1047.75 1686.75h2.5v2.5h-2.5zM1050.75 1683.75h2.5v2.5h-2.5zM1053.75 1680.75h2.5v2.5h-2.5z"/></g>
<rect x="997.5" y="1148.3" width="56.20" height="543.20" fill="none" stroke="#222" stroke-width="1.2"/>
<polyline points="237.4,1218.0 499.3,1415.0 781.1,1508.5 1025.7,1219.8" fill="none" stroke="#14a44c" stroke-width="3" stroke-linejoin="round"/>
<polygon points="237.4,1180.7 209.4,1236.3 265.4,1236.3" fill="#00b050" stroke="#111" stroke-width="1.4" stroke-linejoin="miter"/>
<polygon points="499.3,1378.3 471.3,1433.8999999999999 527.3,1433.8999999999999" fill="#00b050" stroke="#111" stroke-width="1.4" stroke-linejoin="miter"/>
<polygon points="781.1,1472.2 753.1,1527.8 809.1,1527.8" fill="#00b050" stroke="#111" stroke-width="1.4" stroke-linejoin="miter"/>
<polygon points="1025.6,1182.8 997.5999999999999,1238.3999999999999 1053.6,1238.3999999999999" fill="#00b050" stroke="#111" stroke-width="1.4" stroke-linejoin="miter"/>
<line x1="155.0" y1="995.0" x2="155.0" y2="1711.0" stroke="#000" stroke-width="3" stroke-linecap="butt"/>
<line x1="153.5" y1="1691.5" x2="1160.5" y2="1691.5" stroke="#000" stroke-width="3" stroke-linecap="butt"/>
<line x1="1159.0" y1="998.3" x2="1159.0" y2="1691.5" stroke="#000" stroke-width="3" stroke-linecap="butt"/>
<line x1="124.6" y1="1026.4" x2="155.0" y2="1026.4" stroke="#000" stroke-width="3" stroke-linecap="butt"/>
<line x1="124.6" y1="1132.5" x2="155.0" y2="1132.5" stroke="#000" stroke-width="3" stroke-linecap="butt"/>
<line x1="124.6" y1="1243.8" x2="155.0" y2="1243.8" stroke="#000" stroke-width="3" stroke-linecap="butt"/>
<line x1="124.6" y1="1355.3" x2="155.0" y2="1355.3" stroke="#000" stroke-width="3" stroke-linecap="butt"/>
<line x1="124.6" y1="1466.7" x2="155.0" y2="1466.7" stroke="#000" stroke-width="3" stroke-linecap="butt"/>
<line x1="124.6" y1="1578.6" x2="155.0" y2="1578.6" stroke="#000" stroke-width="3" stroke-linecap="butt"/>
<line x1="124.6" y1="1690.3" x2="155.0" y2="1690.3" stroke="#000" stroke-width="3" stroke-linecap="butt"/>
<line x1="131.5" y1="1082.1" x2="155.0" y2="1082.1" stroke="#000" stroke-width="3" stroke-linecap="butt"/>
<line x1="131.5" y1="1194.1" x2="155.0" y2="1194.1" stroke="#000" stroke-width="3" stroke-linecap="butt"/>
<line x1="131.5" y1="1300.1" x2="155.0" y2="1300.1" stroke="#000" stroke-width="3" stroke-linecap="butt"/>
<line x1="131.5" y1="1411.0" x2="155.0" y2="1411.0" stroke="#000" stroke-width="3" stroke-linecap="butt"/>
<line x1="131.5" y1="1523.1" x2="155.0" y2="1523.1" stroke="#000" stroke-width="3" stroke-linecap="butt"/>
<line x1="131.5" y1="1635.0" x2="155.0" y2="1635.0" stroke="#000" stroke-width="3" stroke-linecap="butt"/>
<line x1="1159.0" y1="1031.6" x2="1189.4" y2="1031.6" stroke="#000" stroke-width="3" stroke-linecap="butt"/>
<line x1="1159.0" y1="1136.8" x2="1189.4" y2="1136.8" stroke="#000" stroke-width="3" stroke-linecap="butt"/>
<line x1="1159.0" y1="1247.7" x2="1189.4" y2="1247.7" stroke="#000" stroke-width="3" stroke-linecap="butt"/>
<line x1="1159.0" y1="1358.3" x2="1189.4" y2="1358.3" stroke="#000" stroke-width="3" stroke-linecap="butt"/>
<line x1="1159.0" y1="1469.3" x2="1189.4" y2="1469.3" stroke="#000" stroke-width="3" stroke-linecap="butt"/>
<line x1="1159.0" y1="1580.0" x2="1189.4" y2="1580.0" stroke="#000" stroke-width="3" stroke-linecap="butt"/>
<line x1="1159.0" y1="1690.6" x2="1189.4" y2="1690.6" stroke="#000" stroke-width="3" stroke-linecap="butt"/>
<line x1="1159.0" y1="1087.0" x2="1181.4" y2="1087.0" stroke="#000" stroke-width="3" stroke-linecap="butt"/>
<line x1="1159.0" y1="1198.0" x2="1181.4" y2="1198.0" stroke="#000" stroke-width="3" stroke-linecap="butt"/>
<line x1="1159.0" y1="1303.0" x2="1181.4" y2="1303.0" stroke="#000" stroke-width="3" stroke-linecap="butt"/>
<line x1="1159.0" y1="1414.0" x2="1181.4" y2="1414.0" stroke="#000" stroke-width="3" stroke-linecap="butt"/>
<line x1="1159.0" y1="1524.5" x2="1181.4" y2="1524.5" stroke="#000" stroke-width="3" stroke-linecap="butt"/>
<line x1="1159.0" y1="1635.5" x2="1181.4" y2="1635.5" stroke="#000" stroke-width="3" stroke-linecap="butt"/>
<line x1="339.6" y1="1691.5" x2="339.6" y2="1711.0" stroke="#000" stroke-width="3" stroke-linecap="butt"/>
<line x1="666.0" y1="1691.5" x2="666.0" y2="1711.0" stroke="#000" stroke-width="3" stroke-linecap="butt"/>
<line x1="888.6" y1="1691.5" x2="888.6" y2="1711.0" stroke="#000" stroke-width="3" stroke-linecap="butt"/>
<clipPath id="clb"><rect x="269.6" y="971.3" width="49.30" height="40.90"/></clipPath>
<rect x="269.6" y="971.3" width="49.30" height="40.90" fill="#fff"/>
<g clip-path="url(#clb)"><path fill="none" stroke="#eebbe9" stroke-width="2.8" d="M266.6 948.4L321.9 893.1M266.6 973.4L321.9 918.1M266.6 998.4L321.9 943.1M266.6 1023.4L321.9 968.1M266.6 1048.4L321.9 993.1M266.6 1072.4L321.9 1017.1M266.6 1097.4L321.9 1042.1"/>
<path fill="#a02c92" d="M265.75 971.75h2.5v2.5h-2.5zM268.75 968.75h2.5v2.5h-2.5zM265.75 996.75h2.5v2.5h-2.5zM268.75 993.75h2.5v2.5h-2.5zM271.75 990.75h2.5v2.5h-2.5zM274.75 987.75h2.5v2.5h-2.5zM277.75 984.75h2.5v2.5h-2.5zM280.75 981.75h2.5v2.5h-2.5zM283.75 978.75h2.5v2.5h-2.5zM286.75 975.75h2.5v2.5h-2.5zM289.75 972.75h2.5v2.5h-2.5zM292.75 969.75h2.5v2.5h-2.5zM274.75 1012.75h2.5v2.5h-2.5zM277.75 1009.75h2.5v2.5h-2.5zM280.75 1006.75h2.5v2.5h-2.5zM283.75 1003.75h2.5v2.5h-2.5zM286.75 1000.75h2.5v2.5h-2.5zM289.75 997.75h2.5v2.5h-2.5zM292.75 994.75h2.5v2.5h-2.5zM295.75 991.75h2.5v2.5h-2.5zM298.75 988.75h2.5v2.5h-2.5zM301.75 985.75h2.5v2.5h-2.5zM304.75 982.75h2.5v2.5h-2.5zM307.75 979.75h2.5v2.5h-2.5zM310.75 976.75h2.5v2.5h-2.5zM313.75 973.75h2.5v2.5h-2.5zM316.75 970.75h2.5v2.5h-2.5zM301.75 1010.75h2.5v2.5h-2.5zM304.75 1007.75h2.5v2.5h-2.5zM307.75 1004.75h2.5v2.5h-2.5zM310.75 1001.75h2.5v2.5h-2.5zM313.75 998.75h2.5v2.5h-2.5zM316.75 995.75h2.5v2.5h-2.5z"/></g>
<rect x="269.6" y="971.3" width="49.30" height="40.90" fill="none" stroke="#222" stroke-width="1.2"/>
<line x1="236.3" y1="1041.6" x2="352.0" y2="1041.6" stroke="#14a44c" stroke-width="3" stroke-linecap="butt"/>
<polygon points="294.5,1018.9 270.1,1066.9 318.9,1066.9" fill="#00b050" stroke="#111" stroke-width="1.4" stroke-linejoin="miter"/>
<text x="0" y="0" transform="translate(70.00,78.05) rotate(0)" font-family="'Liberation Serif', serif" font-size="40.0" fill="#000">0.95</text>
<text x="0" y="0" transform="translate(91.00,164.60) rotate(0)" font-family="'Liberation Serif', serif" font-size="40.0" fill="#000">0.9</text>
<text x="0" y="0" transform="translate(70.00,241.05) rotate(0)" font-family="'Liberation Serif', serif" font-size="40.0" fill="#000">0.85</text>
<text x="0" y="0" transform="translate(90.00,321.00) rotate(0)" font-family="'Liberation Serif', serif" font-size="40.0" fill="#000">0.8</text>
<text x="0" y="0" transform="translate(70.00,402.15) rotate(0)" font-family="'Liberation Serif', serif" font-size="40.0" fill="#000">0.75</text>
<text x="0" y="0" transform="translate(90.00,489.25) rotate(0)" font-family="'Liberation Serif', serif" font-size="40.0" fill="#000">0.7</text>
<text x="0" y="0" transform="translate(70.00,575.10) rotate(0)" font-family="'Liberation Serif', serif" font-size="40.0" fill="#000">0.65</text>
<text x="0" y="0" transform="translate(90.00,648.85) rotate(0)" font-family="'Liberation Serif', serif" font-size="40.0" fill="#000">0.6</text>
<text x="0" y="0" transform="translate(70.00,717.95) rotate(0)" font-family="'Liberation Serif', serif" font-size="40.0" fill="#000">0.55</text>
<text x="0" y="0" transform="translate(1175.30,95.95) rotate(0)" font-family="'Liberation Serif', serif" font-size="40.0" fill="#000">1.2</text>
<text x="0" y="0" transform="translate(1175.80,199.90) rotate(0)" font-family="'Liberation Serif', serif" font-size="40.0" fill="#000">1.0</text>
<text x="0" y="0" transform="translate(1173.30,304.15) rotate(0)" font-family="'Liberation Serif', serif" font-size="40.0" fill="#000">0.8</text>
<text x="0" y="0" transform="translate(1173.30,417.05) rotate(0)" font-family="'Liberation Serif', serif" font-size="40.0" fill="#000">0.6</text>
<text x="0" y="0" transform="translate(1173.30,522.70) rotate(0)" font-family="'Liberation Serif', serif" font-size="40.0" fill="#000">0.4</text>
<text x="0" y="0" transform="translate(1173.30,624.80) rotate(0)" font-family="'Liberation Serif', serif" font-size="40.0" fill="#000">0.2</text>
<text x="0" y="0" transform="translate(1173.30,727.35) rotate(0)" font-family="'Liberation Serif', serif" font-size="40.0" fill="#000">0</text>
<text x="0" y="0" transform="translate(138.85,774.00) rotate(0)" font-family="'Liberation Serif', serif" font-size="40.0" fill="#000">Single culture</text>
<text x="0" y="0" transform="translate(188.85,821.80) rotate(0)" font-family="'Liberation Serif', serif" font-size="40.0" fill="#000">training</text>
<text x="0" y="0" transform="translate(398.65,774.10) rotate(0)" font-family="'Liberation Serif', serif" font-size="40.0" fill="#000">Multicultural</text>
<text x="0" y="0" transform="translate(400.15,821.30) rotate(0)" font-family="'Liberation Serif', serif" font-size="40.0" fill="#000">joint training</text>
<text x="0" y="0" transform="translate(725.40,774.00) rotate(0)" font-family="'Liberation Serif', serif" font-size="40.0" fill="#000">Domain</text>
<text x="0" y="0" transform="translate(640.75,820.70) rotate(0)" font-family="'Liberation Serif', serif" font-size="40.0" fill="#000">adaptation method</text>
<text x="0" y="0" transform="translate(926.20,775.00) rotate(0)" font-family="'Liberation Serif', serif" font-size="40.0" fill="#000">MSDA-PSA</text>
<text x="0" y="0" transform="translate(483.50,877.70) rotate(0)" font-family="'Liberation Serif', serif" font-size="40.0" fill="#000">Appraisal procedure</text>
<text x="0" y="0" transform="translate(142.05,928.80) rotate(0)" font-family="'Liberation Serif', serif" font-size="40.0" fill="#000">(a) Cross-cultural assessment process performance comparison</text>
<text x="0" y="0" transform="translate(44.80,526.55) rotate(-90)" font-family="'Liberation Serif', serif" font-size="40.0" fill="#000">Cross-cultural IoU</text>
<text x="0" y="0" transform="translate(1246.50,128.45) rotate(90)" font-family="'Liberation Serif', serif" font-size="40.0" fill="#000">Characteristic domain distance</text>
<text x="0" y="0" transform="translate(612.50,49.00) rotate(0)" font-family="'Liberation Serif', serif" font-size="40.0" fill="#000">Cross-cultural IoU</text>
<text x="0" y="0" transform="translate(612.50,117.40) rotate(0)" font-family="'Liberation Serif', serif" font-size="40.0" fill="#000">Characteristic domain distance</text>
<text x="0" y="0" transform="translate(67.00,1038.00) rotate(0)" font-family="'Liberation Serif', serif" font-size="41.7" fill="#000">1.0</text>
<text x="0" y="0" transform="translate(68.00,1146.35) rotate(0)" font-family="'Liberation Serif', serif" font-size="41.7" fill="#000">0.9</text>
<text x="0" y="0" transform="translate(67.00,1255.45) rotate(0)" font-family="'Liberation Serif', serif" font-size="41.7" fill="#000">0.8</text>
<text x="0" y="0" transform="translate(67.00,1373.10) rotate(0)" font-family="'Liberation Serif', serif" font-size="41.7" fill="#000">0.7</text>
<text x="0" y="0" transform="translate(67.00,1490.10) rotate(0)" font-family="'Liberation Serif', serif" font-size="41.7" fill="#000">0.6</text>
<text x="0" y="0" transform="translate(67.00,1590.55) rotate(0)" font-family="'Liberation Serif', serif" font-size="41.7" fill="#000">0.5</text>
<text x="0" y="0" transform="translate(66.00,1705.20) rotate(0)" font-family="'Liberation Serif', serif" font-size="41.7" fill="#000">0.4</text>
<text x="0" y="0" transform="translate(1191.30,1042.90) rotate(0)" font-family="'Liberation Serif', serif" font-size="41.7" fill="#000">1.1</text>
<text x="0" y="0" transform="translate(1191.30,1150.05) rotate(0)" font-family="'Liberation Serif', serif" font-size="41.7" fill="#000">1.0</text>
<text x="0" y="0" transform="translate(1189.80,1259.50) rotate(0)" font-family="'Liberation Serif', serif" font-size="41.7" fill="#000">0.9</text>
<text x="0" y="0" transform="translate(1189.80,1375.35) rotate(0)" font-family="'Liberation Serif', serif" font-size="41.7" fill="#000">0.8</text>
<text x="0" y="0" transform="translate(1189.80,1484.40) rotate(0)" font-family="'Liberation Serif', serif" font-size="41.7" fill="#000">0.7</text>
<text x="0" y="0" transform="translate(1189.80,1591.10) rotate(0)" font-family="'Liberation Serif', serif" font-size="41.7" fill="#000">0.6</text>
<text x="0" y="0" transform="translate(1189.80,1704.90) rotate(0)" font-family="'Liberation Serif', serif" font-size="41.7" fill="#000">0.5</text>
<text x="0" y="0" transform="translate(121.80,1744.70) rotate(0)" font-family="'Liberation Serif', serif" font-size="41.7" fill="#000">Single culture</text>
<text x="0" y="0" transform="translate(173.70,1794.40) rotate(0)" font-family="'Liberation Serif', serif" font-size="41.7" fill="#000">training</text>
<text x="0" y="0" transform="translate(395.50,1744.10) rotate(0)" font-family="'Liberation Serif', serif" font-size="41.7" fill="#000">Multicultural</text>
<text x="0" y="0" transform="translate(397.30,1792.00) rotate(0)" font-family="'Liberation Serif', serif" font-size="41.7" fill="#000">joint training</text>
<text x="0" y="0" transform="translate(724.00,1744.10) rotate(0)" font-family="'Liberation Serif', serif" font-size="41.7" fill="#000">Domain</text>
<text x="0" y="0" transform="translate(637.40,1792.00) rotate(0)" font-family="'Liberation Serif', serif" font-size="41.7" fill="#000">adaptation method</text>
<text x="0" y="0" transform="translate(939.65,1751.90) rotate(0)" font-family="'Liberation Serif', serif" font-size="41.7" fill="#000">MSDA-PSA</text>
<text x="0" y="0" transform="translate(475.50,1847.00) rotate(0)" font-family="'Liberation Serif', serif" font-size="41.7" fill="#000">Appraisal procedure</text>
<text x="0" y="0" transform="translate(213.70,1906.70) rotate(0)" font-family="'Liberation Serif', serif" font-size="41.7" fill="#000">(b) Multi-dimensional evaluation process analysis</text>
<text x="0" y="0" transform="translate(39.00,1470.85) rotate(-90)" font-family="'Liberation Serif', serif" font-size="41.7" fill="#000">Style mobility</text>
<text x="0" y="0" transform="translate(1272.00,1068.25) rotate(90)" font-family="'Liberation Serif', serif" font-size="41.7" fill="#000">Cultural specificity retention rate</text>
<text x="0" y="0" transform="translate(350.30,1005.50) rotate(0)" font-family="'Liberation Serif', serif" font-size="41.7" fill="#000">Style mobility</text>
<text x="0" y="0" transform="translate(351.30,1065.20) rotate(0)" font-family="'Liberation Serif', serif" font-size="41.7" fill="#000">Cultural specificity retention rate</text>
</svg></body></html>
